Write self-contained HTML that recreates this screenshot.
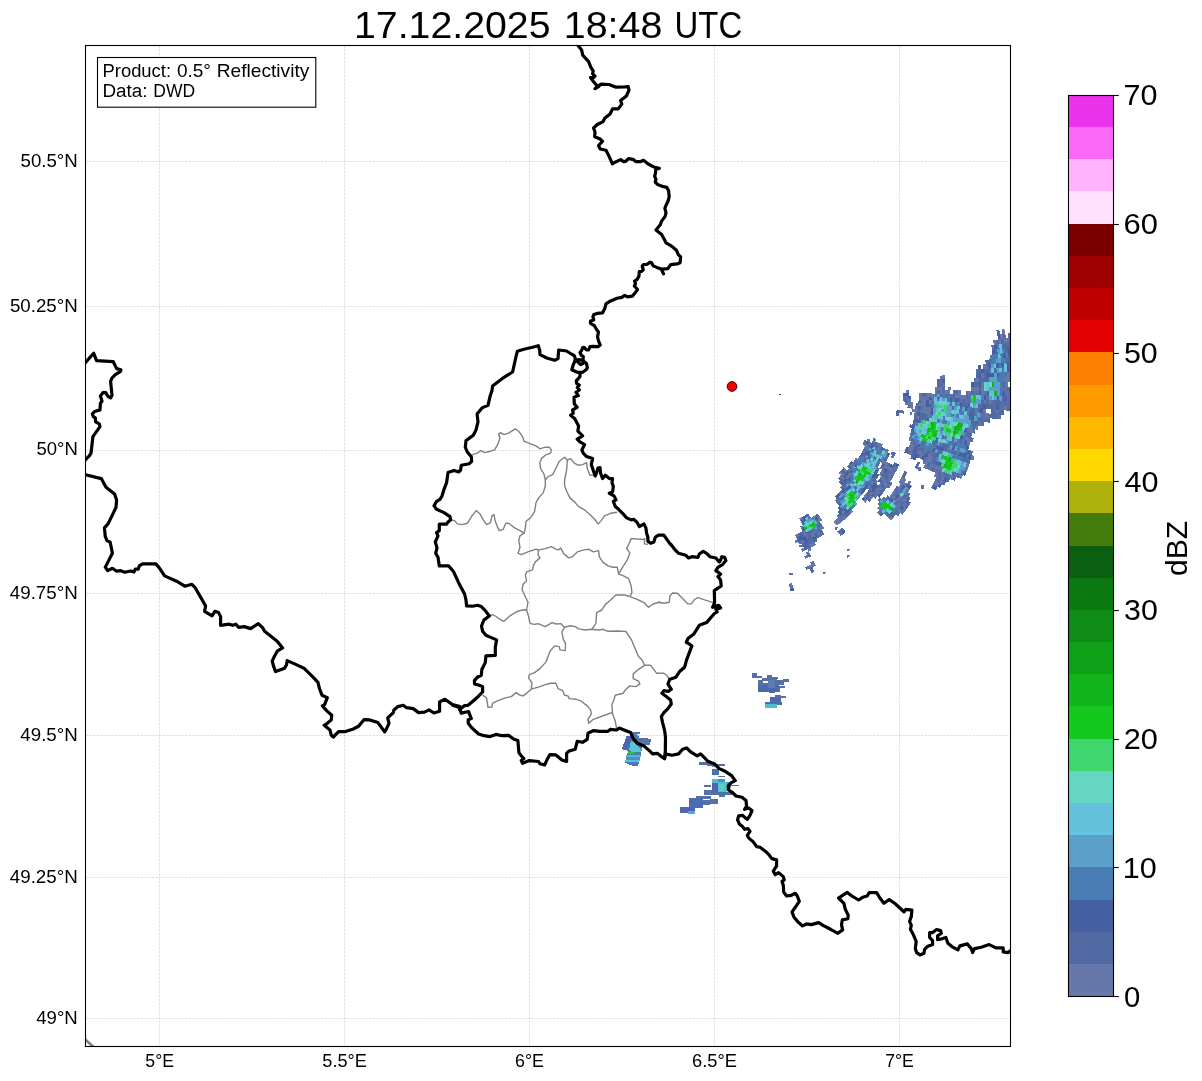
<!DOCTYPE html>
<html lang="en"><head><meta charset="utf-8"><title>17.12.2025 18:48 UTC - 0.5° Reflectivity</title>
<style>html,body{margin:0;padding:0;background:#fff}body{width:1202px;height:1081px;overflow:hidden}svg{display:block}text{font-family:"Liberation Sans",sans-serif;fill:#000;filter:grayscale(1)}</style></head><body>
<svg width="1202" height="1081" viewBox="0 0 1202 1081">
<rect width="1202" height="1081" fill="#fff"/>
<defs><clipPath id="ax"><rect x="85.5" y="45.5" width="925.0" height="1001.0"/></clipPath></defs>
<g clip-path="url(#ax)">
<g shape-rendering="crispEdges">
<rect x="909.7" y="411.7" width="2.3" height="2.9" fill="#5a70a8"/>
<rect x="918.5" y="467" width="2.9" height="4.1" fill="#5a70a8"/>
<rect x="921.4" y="485.1" width="2.3" height="3.5" fill="#5a70a8"/>
<rect x="891.4" y="452.1" width="1.7" height="2.9" fill="#5a70a8"/>
<rect x="892.6" y="456.1" width="1.7" height="2.3" fill="#5a70a8"/>
<rect x="921.1" y="485.3" width="2.3" height="3.5" fill="#5a70a8"/>
<rect x="918.2" y="466.6" width="2.9" height="4.7" fill="#5a70a8"/>
<rect x="916.5" y="462" width="2.3" height="4.1" fill="#5a70a8"/>
<rect x="834.9" y="527.2" width="2.3" height="2.9" fill="#5a70a8"/>
<rect x="799.3" y="544.9" width="3.2" height="1.8" fill="#5a70a8"/>
<rect x="789.2" y="572.8" width="3.7" height="1.8" fill="#5a70a8"/>
<polygon points="823.1,572.4 825.9,572.4 825,574.2 823.6,574.6" fill="#5a70a8"/>
<polygon points="846.5,549.5 849.7,549.3 849.2,551.3 846.9,551.5" fill="#5a70a8"/>
<polygon points="846.5,555.4 849.7,555 849.2,557.2 846.5,557.7" fill="#5a70a8"/>
<polygon points="835.5,527 837.8,527 837.3,529.3 835.2,529.3" fill="#5a70a8"/>
<rect x="751.9" y="673.1" width="5" height="4.4" fill="#5870a8"/>
<rect x="756.9" y="676" width="5" height="1.5" fill="#5870a8"/>
<rect x="767.1" y="675.2" width="4.7" height="1.7" fill="#5870a8"/>
<rect x="767.1" y="676.6" width="10.8" height="2" fill="#5870a8"/>
<rect x="762.1" y="678.4" width="15.2" height="2" fill="#5870a8"/>
<rect x="783.1" y="679.2" width="5.8" height="3.2" fill="#5870a8"/>
<rect x="758.4" y="680.1" width="25.4" height="4.4" fill="#5870a8"/>
<rect x="758.4" y="684.5" width="20.4" height="7.6" fill="#4f68ac"/>
<rect x="778.8" y="685.6" width="6.1" height="2" fill="#5870a8"/>
<rect x="778.8" y="687.7" width="1.2" height="4.1" fill="#5870a8"/>
<rect x="769.1" y="691.8" width="5.8" height="0.9" fill="#5870a8"/>
<rect x="775.3" y="695.3" width="5.5" height="2" fill="#5870a8"/>
<rect x="780.8" y="696.1" width="5" height="1.5" fill="#5870a8"/>
<rect x="770.3" y="697.3" width="10.5" height="4.7" fill="#4f68ac"/>
<rect x="765.1" y="702.3" width="16.6" height="2.6" fill="#4c6cb0"/>
<rect x="765.1" y="704.1" width="11.7" height="3.4" fill="#4cc0c8"/>
<rect x="763" y="681" width="5" height="1.7" fill="#ffffff"/>
<rect x="768" y="679.8" width="7" height="8.2" fill="#5a7eb0"/>
<polygon points="632.5,732.2 640,732.2 640,733.7 636,734 639,736.5 638.7,738 645,738.5 645.7,738 647.5,738.2 647.7,739.2 651,739.5 650.7,742 650,743 649.7,745.5 646,745.2 642,744.7 642,750 640.7,752 640.5,757 640,760 639,762 638.5,764.5 637.7,766.5 634,766 631.5,765.2 628,764 625.2,763 625.5,760.5 626.5,759 626.2,756 627.2,754 628,751.5 627,750 622.5,749.5 622.2,747.5 623.2,746 623.5,744 624.5,742 625.2,739.5 626,737 626.5,735.5 631,735.5 632,734" fill="#4f78b4"/>
<polygon points="638.7,738 645,738.5 645.7,738 647.5,738.2 647.7,739.2 651,739.5 650.7,742 650,743 649.7,745.5 646,745.2 642,744.7 640,743.5" fill="#5870a8"/>
<polygon points="626.5,735.5 631,735.5 631.5,738.5 630,742 629,746 627,749.7 622.5,749.5 622.2,747.5 623.2,746 623.5,744 624.5,742 625.2,739.5" fill="#4e66ae"/>
<polygon points="631,740.5 635,743.5 637,746 641,749 641.2,752 636,752 632,752 629,750 630,746 630.5,743" fill="#58c6d6"/>
<polygon points="626.5,754.5 640.6,754.7 640.5,757 626.2,756.7" fill="#52b8d2"/>
<polygon points="626,757 640.4,757.2 640.1,760 625.6,759.7" fill="#4a90c4"/>
<polygon points="625.5,760 640,760.2 639.2,762.2 625.3,762" fill="#58c0d4"/>
<polygon points="628,762.2 639,762.5 637.8,766.4 634,766 631.5,765.2 628,764" fill="#4a78b8"/>
<polygon points="628.5,751.5 635,751.7 635.5,753.2 631,754 628.2,753.5" fill="#22cc30"/>
<rect x="699.1" y="762.2" width="11.1" height="2.5" fill="#5870a8"/>
<rect x="706.5" y="764.3" width="18.5" height="1.5" fill="#5870a8"/>
<rect x="712.3" y="765.9" width="4.6" height="1.5" fill="#6a88b0"/>
<rect x="712.3" y="769.2" width="6.5" height="5.8" fill="#4a70b0"/>
<rect x="718.2" y="775.7" width="6.8" height="1.2" fill="#5870a8"/>
<rect x="711.7" y="778.5" width="6.2" height="4" fill="#58b8d8"/>
<rect x="717.9" y="779.1" width="7.1" height="2.8" fill="#4a90c0"/>
<rect x="711.7" y="782.5" width="6.2" height="10.5" fill="#5560b0"/>
<rect x="724.9" y="781.9" width="6.2" height="6.2" fill="#4a88b8"/>
<rect x="717.9" y="781.9" width="8.9" height="10.5" fill="#50c4cc"/>
<rect x="718.8" y="783.7" width="5.5" height="6.8" fill="#58d0c0"/>
<rect x="704" y="785.2" width="7.4" height="1.5" fill="#5870a8"/>
<rect x="704" y="789.6" width="8.6" height="5.8" fill="#5870a8"/>
<rect x="711.4" y="792.3" width="20.3" height="3.1" fill="#5070a8"/>
<rect x="718.8" y="795.4" width="6.2" height="1.2" fill="#5870a8"/>
<rect x="696.3" y="796" width="14.5" height="2.5" fill="#5870a8"/>
<rect x="689.2" y="797.6" width="13.5" height="10.2" fill="#4a6cb0"/>
<rect x="702.8" y="800" width="15.1" height="2.5" fill="#5870a8"/>
<rect x="702.8" y="803.4" width="7.4" height="1.2" fill="#5870a8"/>
<rect x="710.2" y="799.1" width="7.7" height="4.6" fill="#5870a8"/>
<rect x="680" y="807.4" width="8.6" height="5.2" fill="#5068a8"/>
<rect x="688" y="807.7" width="6.8" height="3.1" fill="#5060b8"/>
<rect x="688" y="810.5" width="6.8" height="3.4" fill="#48b0d8"/>
<rect x="731.1" y="785.4" width="7.7" height="0.5" fill="#5870a8"/>
<rect x="779" y="394.2" width="2.2" height="0.9" fill="#444444"/>
<polygon points="996.4,330.3 999.2,329.7 1000.1,334.4 997.3,334.9" fill="#526aa4"/>
<polygon points="1001.5,329.2 1004.2,328.6 1005.2,333.4 1002.4,333.9" fill="#6678aa"/>
<polygon points="997.3,334.9 1000.1,334.4 1001,339.1 998.2,339.6" fill="#4460a2"/>
<polygon points="999.9,334.4 1002.7,333.9 1003.5,338.6 1000.7,339.1" fill="#6678aa"/>
<polygon points="1002.4,333.9 1005.2,333.4 1006.1,338.2 1003.3,338.7" fill="#526aa4"/>
<polygon points="1007.5,332.9 1010.3,332.4 1011.2,337.3 1008.4,337.8" fill="#526aa4"/>
<polygon points="993.1,340.5 995.8,340 996.6,344.6 993.8,345" fill="#6678aa"/>
<polygon points="995.6,340 998.4,339.5 999.2,344.2 996.4,344.6" fill="#526aa4"/>
<polygon points="998.2,339.6 1001,339.1 1001.8,343.8 999,344.2" fill="#6678aa"/>
<polygon points="1000.7,339.1 1003.5,338.6 1004.3,343.4 1001.5,343.8" fill="#526aa4"/>
<polygon points="1003.3,338.7 1006.1,338.2 1006.9,343 1004.1,343.4" fill="#6678aa"/>
<polygon points="1005.9,338.2 1008.7,337.7 1009.5,342.6 1006.7,343" fill="#6678aa"/>
<polygon points="1008.4,337.8 1011.2,337.3 1012,342.1 1009.2,342.6" fill="#526aa4"/>
<polygon points="991.2,345.4 994.1,345 994.7,349.6 991.9,350" fill="#5a70a8"/>
<polygon points="993.8,345 996.6,344.6 997.3,349.2 994.5,349.6" fill="#4460a2"/>
<polygon points="996.4,344.6 999.2,344.2 999.9,348.9 997.1,349.2" fill="#4a7cb4"/>
<polygon points="999,344.2 1001.8,343.8 1002.5,348.5 999.6,348.9" fill="#66c2dc"/>
<polygon points="1001.5,343.8 1004.3,343.4 1005,348.1 1002.2,348.5" fill="#526aa4"/>
<polygon points="1004.1,343.4 1006.9,343 1007.6,347.8 1004.8,348.2" fill="#526aa4"/>
<polygon points="1006.7,343 1009.5,342.6 1010.2,347.4 1007.4,347.8" fill="#526aa4"/>
<polygon points="1009.2,342.6 1012,342.1 1012.8,347 1009.9,347.4" fill="#5a70a8"/>
<polygon points="991.9,350 994.7,349.6 995.3,354.2 992.5,354.5" fill="#4460a2"/>
<polygon points="994.5,349.6 997.3,349.2 997.9,353.8 995.1,354.2" fill="#526aa4"/>
<polygon points="997.1,349.2 999.9,348.9 1000.5,353.5 997.7,353.9" fill="#5aa0c8"/>
<polygon points="999.6,348.9 1002.5,348.5 1003.1,353.2 1000.3,353.6" fill="#66c2dc"/>
<polygon points="1002.2,348.5 1005,348.1 1005.7,352.9 1002.8,353.2" fill="#4a7cb4"/>
<polygon points="1004.8,348.2 1007.6,347.8 1008.2,352.6 1005.4,352.9" fill="#526aa4"/>
<polygon points="1007.4,347.8 1010.2,347.4 1010.8,352.3 1008,352.6" fill="#4460a2"/>
<polygon points="1009.9,347.4 1012.8,347 1013.4,351.9 1010.6,352.3" fill="#6678aa"/>
<polygon points="989.9,354.8 992.8,354.5 993.3,359 990.5,359.3" fill="#4a7cb4"/>
<polygon points="992.5,354.5 995.3,354.2 995.9,358.8 993,359.1" fill="#4a7cb4"/>
<polygon points="995.1,354.2 997.9,353.8 998.5,358.5 995.6,358.8" fill="#4a7cb4"/>
<polygon points="997.7,353.9 1000.5,353.5 1001,358.2 998.2,358.5" fill="#66c2dc"/>
<polygon points="1000.3,353.6 1003.1,353.2 1003.6,358 1000.8,358.2" fill="#4a7cb4"/>
<polygon points="1002.8,353.2 1005.7,352.9 1006.2,357.7 1003.4,358" fill="#4460a2"/>
<polygon points="1005.4,352.9 1008.2,352.6 1008.8,357.4 1006,357.7" fill="#6678aa"/>
<polygon points="1008,352.6 1010.8,352.3 1011.4,357.1 1008.6,357.4" fill="#4460a2"/>
<polygon points="1010.6,352.3 1013.4,351.9 1014,356.9 1011.1,357.2" fill="#526aa4"/>
<polygon points="985.3,359.9 988.1,359.6 988.5,364.1 985.7,364.3" fill="#526aa4"/>
<polygon points="987.9,359.6 990.7,359.3 991.1,363.8 988.3,364.1" fill="#526aa4"/>
<polygon points="990.5,359.3 993.3,359 993.7,363.6 990.9,363.8" fill="#4a7cb4"/>
<polygon points="993,359.1 995.9,358.8 996.3,363.4 993.5,363.6" fill="#4a7cb4"/>
<polygon points="995.6,358.8 998.5,358.5 998.9,363.1 996.1,363.4" fill="#5aa0c8"/>
<polygon points="998.2,358.5 1001,358.2 1001.5,362.9 998.7,363.2" fill="#5aa0c8"/>
<polygon points="1000.8,358.2 1003.6,358 1004.1,362.7 1001.3,362.9" fill="#4a7cb4"/>
<polygon points="1003.4,358 1006.2,357.7 1006.7,362.5 1003.8,362.7" fill="#4a7cb4"/>
<polygon points="1006,357.7 1008.8,357.4 1009.3,362.2 1006.4,362.5" fill="#526aa4"/>
<polygon points="1008.6,357.4 1011.4,357.1 1011.9,362 1009,362.3" fill="#5a70a8"/>
<polygon points="977.9,365 980.8,364.7 981.1,369.1 978.3,369.3" fill="#4460a2"/>
<polygon points="983.1,364.5 985.9,364.3 986.3,368.7 983.5,368.9" fill="#6678aa"/>
<polygon points="985.7,364.3 988.5,364.1 988.9,368.5 986.1,368.7" fill="#5a70a8"/>
<polygon points="988.3,364.1 991.1,363.8 991.5,368.4 988.7,368.6" fill="#4460a2"/>
<polygon points="990.9,363.8 993.7,363.6 994.1,368.2 991.2,368.4" fill="#5aa0c8"/>
<polygon points="993.5,363.6 996.3,363.4 996.7,368 993.8,368.2" fill="#66c2dc"/>
<polygon points="996.1,363.4 998.9,363.1 999.3,367.8 996.4,368" fill="#4460a2"/>
<polygon points="998.7,363.2 1001.5,362.9 1001.9,367.6 999,367.8" fill="#4a7cb4"/>
<polygon points="1001.3,362.9 1004.1,362.7 1004.5,367.4 1001.6,367.6" fill="#4460a2"/>
<polygon points="1003.8,362.7 1006.7,362.5 1007,367.3 1004.2,367.5" fill="#66c2dc"/>
<polygon points="1006.4,362.5 1009.3,362.2 1009.6,367.1 1006.8,367.3" fill="#4460a2"/>
<polygon points="1009,362.3 1011.9,362 1012.2,366.9 1009.4,367.1" fill="#526aa4"/>
<polygon points="975.7,369.5 978.5,369.3 978.8,373.6 975.9,373.7" fill="#5a70a8"/>
<polygon points="978.3,369.3 981.1,369.1 981.4,373.4 978.5,373.6" fill="#526aa4"/>
<polygon points="980.9,369.1 983.7,368.9 984,373.3 981.1,373.4" fill="#4460a2"/>
<polygon points="983.5,368.9 986.3,368.7 986.6,373.2 983.7,373.3" fill="#526aa4"/>
<polygon points="986.1,368.7 988.9,368.5 989.2,373 986.3,373.2" fill="#526aa4"/>
<polygon points="988.7,368.6 991.5,368.4 991.8,372.9 988.9,373" fill="#4a7cb4"/>
<polygon points="991.2,368.4 994.1,368.2 994.4,372.8 991.5,372.9" fill="#66c2dc"/>
<polygon points="993.8,368.2 996.7,368 997,372.6 994.1,372.8" fill="#526aa4"/>
<polygon points="996.4,368 999.3,367.8 999.6,372.5 996.7,372.6" fill="#5aa0c8"/>
<polygon points="999,367.8 1001.9,367.6 1002.1,372.3 999.3,372.5" fill="#66c2dc"/>
<polygon points="1001.6,367.6 1004.5,367.4 1004.7,372.2 1001.9,372.4" fill="#4a7cb4"/>
<polygon points="1004.2,367.5 1007,367.3 1007.3,372.1 1004.5,372.2" fill="#66c2dc"/>
<polygon points="1006.8,367.3 1009.6,367.1 1009.9,371.9 1007.1,372.1" fill="#4460a2"/>
<polygon points="1009.4,367.1 1012.2,366.9 1012.5,371.8 1009.7,371.9" fill="#5a70a8"/>
<polygon points="939.6,375.6 942.4,375.5 942.6,379.1 939.8,379.2" fill="#5a70a8"/>
<polygon points="942.2,375.5 945,375.3 945.2,379.1 942.4,379.2" fill="#6678aa"/>
<polygon points="975.9,373.7 978.8,373.6 979,377.9 976.1,378" fill="#526aa4"/>
<polygon points="978.5,373.6 981.4,373.4 981.6,377.8 978.7,377.9" fill="#4460a2"/>
<polygon points="981.1,373.4 984,373.3 984.2,377.7 981.3,377.8" fill="#6678aa"/>
<polygon points="983.7,373.3 986.6,373.2 986.8,377.6 983.9,377.7" fill="#526aa4"/>
<polygon points="986.3,373.2 989.2,373 989.4,377.5 986.5,377.6" fill="#4460a2"/>
<polygon points="988.9,373 991.8,372.9 992,377.4 989.1,377.5" fill="#4460a2"/>
<polygon points="991.5,372.9 994.4,372.8 994.6,377.3 991.7,377.4" fill="#4460a2"/>
<polygon points="994.1,372.8 997,372.6 997.2,377.2 994.3,377.3" fill="#5aa0c8"/>
<polygon points="996.7,372.6 999.6,372.5 999.8,377.1 996.9,377.2" fill="#4460a2"/>
<polygon points="999.3,372.5 1002.1,372.3 1002.4,377.1 999.5,377.2" fill="#4a7cb4"/>
<polygon points="1001.9,372.4 1004.7,372.2 1005,377 1002.1,377.1" fill="#4a7cb4"/>
<polygon points="1004.5,372.2 1007.3,372.1 1007.6,376.9 1004.7,377" fill="#5a70a8"/>
<polygon points="1007.1,372.1 1009.9,371.9 1010.2,376.8 1007.3,376.9" fill="#6678aa"/>
<polygon points="1009.7,371.9 1012.5,371.8 1012.7,376.7 1009.9,376.8" fill="#526aa4"/>
<polygon points="937.2,379.3 940,379.2 940.1,382.9 937.2,382.9" fill="#526aa4"/>
<polygon points="939.8,379.2 942.6,379.1 942.7,382.8 939.8,382.9" fill="#5a70a8"/>
<polygon points="942.4,379.2 945.2,379.1 945.3,382.8 942.4,382.8" fill="#4460a2"/>
<polygon points="973.5,378.1 976.4,378 976.5,382.2 973.6,382.3" fill="#5a70a8"/>
<polygon points="976.1,378 979,377.9 979.1,382.2 976.2,382.2" fill="#6678aa"/>
<polygon points="978.7,377.9 981.6,377.8 981.7,382.1 978.8,382.2" fill="#526aa4"/>
<polygon points="981.3,377.8 984.2,377.7 984.3,382.1 981.4,382.1" fill="#526aa4"/>
<polygon points="983.9,377.7 986.8,377.6 986.9,382.1 984,382.1" fill="#526aa4"/>
<polygon points="986.5,377.6 989.4,377.5 989.5,382 986.6,382.1" fill="#526aa4"/>
<polygon points="989.1,377.5 992,377.4 992.1,382 989.2,382" fill="#5aa0c8"/>
<polygon points="991.7,377.4 994.6,377.3 994.7,381.9 991.8,382" fill="#5aa0c8"/>
<polygon points="994.3,377.3 997.2,377.2 997.3,381.9 994.4,381.9" fill="#5aa0c8"/>
<polygon points="996.9,377.2 999.8,377.1 999.9,381.8 997,381.9" fill="#4a7cb4"/>
<polygon points="999.5,377.2 1002.4,377.1 1002.5,381.8 999.6,381.8" fill="#4a7cb4"/>
<polygon points="1002.1,377.1 1005,377 1005.1,381.7 1002.2,381.8" fill="#4a7cb4"/>
<polygon points="1004.7,377 1007.6,376.9 1007.7,381.7 1004.8,381.7" fill="#6678aa"/>
<polygon points="1007.3,376.9 1010.2,376.8 1010.3,381.6 1007.4,381.7" fill="#6678aa"/>
<polygon points="1009.9,376.8 1012.7,376.7 1012.9,381.6 1010,381.6" fill="#526aa4"/>
<polygon points="937.2,382.9 940.1,382.9 940.1,386.5 937.3,386.5" fill="#526aa4"/>
<polygon points="939.8,382.9 942.7,382.8 942.7,386.5 939.9,386.5" fill="#526aa4"/>
<polygon points="942.4,382.8 945.3,382.8 945.3,386.5 942.5,386.5" fill="#5a70a8"/>
<polygon points="971,382.3 973.9,382.3 973.9,386.5 971.1,386.5" fill="#4460a2"/>
<polygon points="973.6,382.3 976.5,382.2 976.5,386.5 973.7,386.5" fill="#526aa4"/>
<polygon points="976.2,382.2 979.1,382.2 979.1,386.5 976.3,386.5" fill="#526aa4"/>
<polygon points="978.8,382.2 981.7,382.1 981.7,386.5 978.9,386.5" fill="#4460a2"/>
<polygon points="981.4,382.1 984.3,382.1 984.3,386.5 981.5,386.5" fill="#6678aa"/>
<polygon points="984,382.1 986.9,382.1 986.9,386.5 984.1,386.5" fill="#64d6c2"/>
<polygon points="986.6,382.1 989.5,382 989.5,386.5 986.7,386.5" fill="#66c2dc"/>
<polygon points="989.2,382 992.1,382 992.1,386.5 989.3,386.5" fill="#64d6c2"/>
<polygon points="991.8,382 994.7,381.9 994.7,386.5 991.9,386.5" fill="#12b41c"/>
<polygon points="994.4,381.9 997.3,381.9 997.3,386.5 994.5,386.5" fill="#5aa0c8"/>
<polygon points="997,381.9 999.9,381.8 999.9,386.5 997.1,386.5" fill="#5aa0c8"/>
<polygon points="999.6,381.8 1002.5,381.8 1002.5,386.5 999.7,386.5" fill="#4a7cb4"/>
<polygon points="1002.2,381.8 1005.1,381.7 1005.1,386.5 1002.3,386.5" fill="#526aa4"/>
<polygon points="1004.8,381.7 1007.7,381.7 1007.7,386.5 1004.9,386.5" fill="#6678aa"/>
<polygon points="934.7,386.5 937.5,386.5 937.5,390.1 934.6,390" fill="#6678aa"/>
<polygon points="937.3,386.5 940.1,386.5 940.1,390.1 937.2,390.1" fill="#6678aa"/>
<polygon points="939.9,386.5 942.7,386.5 942.7,390.2 939.8,390.1" fill="#6678aa"/>
<polygon points="942.5,386.5 945.3,386.5 945.3,390.2 942.4,390.2" fill="#526aa4"/>
<polygon points="947.7,386.5 950.5,386.5 950.5,390.3 947.6,390.3" fill="#6678aa"/>
<polygon points="971.1,386.5 973.9,386.5 973.9,390.7 971,390.7" fill="#6678aa"/>
<polygon points="973.7,386.5 976.5,386.5 976.5,390.8 973.6,390.7" fill="#6678aa"/>
<polygon points="976.3,386.5 979.1,386.5 979.1,390.8 976.2,390.8" fill="#6678aa"/>
<polygon points="978.9,386.5 981.7,386.5 981.7,390.9 978.8,390.8" fill="#526aa4"/>
<polygon points="981.5,386.5 984.3,386.5 984.3,390.9 981.4,390.9" fill="#6678aa"/>
<polygon points="984.1,386.5 986.9,386.5 986.9,390.9 984,390.9" fill="#64d6c2"/>
<polygon points="986.7,386.5 989.5,386.5 989.5,391 986.6,390.9" fill="#66c2dc"/>
<polygon points="989.3,386.5 992.1,386.5 992.1,391 989.2,391" fill="#5aa0c8"/>
<polygon points="991.9,386.5 994.7,386.5 994.7,391.1 991.8,391" fill="#5aa0c8"/>
<polygon points="994.5,386.5 997.3,386.5 997.3,391.1 994.4,391.1" fill="#5aa0c8"/>
<polygon points="997.1,386.5 999.9,386.5 999.9,391.2 997,391.1" fill="#5aa0c8"/>
<polygon points="999.7,386.5 1002.5,386.5 1002.5,391.2 999.6,391.2" fill="#4a7cb4"/>
<polygon points="1002.3,386.5 1005.1,386.5 1005.1,391.3 1002.2,391.2" fill="#5a70a8"/>
<polygon points="1004.9,386.5 1007.7,386.5 1007.7,391.3 1004.8,391.3" fill="#5a70a8"/>
<polygon points="1007.5,386.5 1010.3,386.5 1010.3,391.4 1007.4,391.3" fill="#526aa4"/>
<polygon points="1010.1,386.5 1012.9,386.5 1012.9,391.4 1010,391.4" fill="#526aa4"/>
<polygon points="906.1,389.5 908.9,389.6 908.8,392.7 906,392.6" fill="#6678aa"/>
<polygon points="934.6,390 937.5,390.1 937.4,393.7 934.6,393.6" fill="#6678aa"/>
<polygon points="937.2,390.1 940.1,390.1 940,393.8 937.2,393.7" fill="#526aa4"/>
<polygon points="939.8,390.1 942.7,390.2 942.6,393.9 939.8,393.8" fill="#6678aa"/>
<polygon points="942.4,390.2 945.3,390.2 945.2,393.9 942.4,393.8" fill="#5a70a8"/>
<polygon points="945,390.2 947.9,390.3 947.8,394 945,393.9" fill="#6678aa"/>
<polygon points="947.6,390.3 950.5,390.3 950.4,394.1 947.5,394" fill="#6678aa"/>
<polygon points="952.8,390.4 955.7,390.4 955.6,394.3 952.7,394.2" fill="#5a70a8"/>
<polygon points="955.4,390.4 958.3,390.4 958.2,394.4 955.3,394.3" fill="#526aa4"/>
<polygon points="958,390.4 960.9,390.5 960.8,394.5 957.9,394.4" fill="#6678aa"/>
<polygon points="965.8,390.6 968.7,390.6 968.6,394.8 965.7,394.7" fill="#526aa4"/>
<polygon points="968.4,390.6 971.3,390.7 971.2,394.9 968.3,394.8" fill="#6678aa"/>
<polygon points="971,390.7 973.9,390.7 973.8,394.9 970.9,394.8" fill="#526aa4"/>
<polygon points="973.6,390.7 976.5,390.8 976.4,395 973.5,394.9" fill="#5a70a8"/>
<polygon points="976.2,390.8 979.1,390.8 979,395.1 976.1,395" fill="#5a70a8"/>
<polygon points="978.8,390.8 981.7,390.9 981.6,395.2 978.7,395.1" fill="#4460a2"/>
<polygon points="981.4,390.9 984.3,390.9 984.2,395.3 981.3,395.2" fill="#6678aa"/>
<polygon points="984,390.9 986.9,390.9 986.8,395.4 983.9,395.3" fill="#4a7cb4"/>
<polygon points="986.6,390.9 989.5,391 989.4,395.5 986.5,395.4" fill="#4460a2"/>
<polygon points="989.2,391 992.1,391 992,395.6 989.1,395.5" fill="#66c2dc"/>
<polygon points="991.8,391 994.7,391.1 994.6,395.7 991.7,395.6" fill="#66c2dc"/>
<polygon points="994.4,391.1 997.3,391.1 997.2,395.8 994.3,395.7" fill="#12b41c"/>
<polygon points="997,391.1 999.9,391.2 999.8,395.9 996.9,395.8" fill="#5aa0c8"/>
<polygon points="999.6,391.2 1002.5,391.2 1002.4,395.9 999.5,395.8" fill="#4a7cb4"/>
<polygon points="1002.2,391.2 1005.1,391.3 1005,396 1002.1,395.9" fill="#4460a2"/>
<polygon points="1004.8,391.3 1007.7,391.3 1007.6,396.1 1004.7,396" fill="#5a70a8"/>
<polygon points="1007.4,391.3 1010.3,391.4 1010.2,396.2 1007.3,396.1" fill="#5a70a8"/>
<polygon points="1010,391.4 1012.9,391.4 1012.7,396.3 1009.9,396.2" fill="#4460a2"/>
<polygon points="903.4,392.5 906.2,392.6 906.1,395.6 903.2,395.5" fill="#4460a2"/>
<polygon points="906,392.6 908.8,392.7 908.7,395.8 905.8,395.6" fill="#4460a2"/>
<polygon points="919,393 921.8,393.1 921.7,396.4 918.8,396.3" fill="#6678aa"/>
<polygon points="921.6,393.1 924.4,393.2 924.3,396.6 921.4,396.4" fill="#526aa4"/>
<polygon points="924.2,393.2 927,393.3 926.9,396.7 924,396.6" fill="#526aa4"/>
<polygon points="926.8,393.3 929.6,393.4 929.4,396.8 926.6,396.7" fill="#6678aa"/>
<polygon points="929.4,393.4 932.2,393.5 932,397 929.2,396.8" fill="#6678aa"/>
<polygon points="932,393.5 934.8,393.6 934.6,397.1 931.8,397" fill="#6678aa"/>
<polygon points="934.6,393.6 937.4,393.7 937.2,397.3 934.4,397.1" fill="#4a7cb4"/>
<polygon points="937.2,393.7 940,393.8 939.8,397.4 937,397.2" fill="#5aa0c8"/>
<polygon points="939.8,393.8 942.6,393.9 942.4,397.5 939.6,397.4" fill="#526aa4"/>
<polygon points="942.4,393.8 945.2,393.9 945,397.7 942.2,397.5" fill="#4a7cb4"/>
<polygon points="945,393.9 947.8,394 947.6,397.8 944.8,397.7" fill="#526aa4"/>
<polygon points="947.5,394 950.4,394.1 950.2,397.9 947.4,397.8" fill="#5a70a8"/>
<polygon points="950.1,394.1 953,394.2 952.8,398.1 950,397.9" fill="#5a70a8"/>
<polygon points="952.7,394.2 955.6,394.3 955.4,398.2 952.6,398.1" fill="#526aa4"/>
<polygon points="955.3,394.3 958.2,394.4 958,398.3 955.2,398.2" fill="#6678aa"/>
<polygon points="957.9,394.4 960.8,394.5 960.6,398.5 957.8,398.3" fill="#6678aa"/>
<polygon points="960.5,394.5 963.4,394.6 963.2,398.6 960.4,398.5" fill="#6678aa"/>
<polygon points="963.1,394.6 966,394.7 965.8,398.8 963,398.6" fill="#6678aa"/>
<polygon points="965.7,394.7 968.6,394.8 968.4,398.9 965.6,398.7" fill="#526aa4"/>
<polygon points="968.3,394.8 971.2,394.9 971,399 968.2,398.9" fill="#5a70a8"/>
<polygon points="970.9,394.8 973.8,394.9 973.6,399.2 970.8,399" fill="#40d66e"/>
<polygon points="973.5,394.9 976.4,395 976.2,399.3 973.3,399.1" fill="#14c81e"/>
<polygon points="976.1,395 979,395.1 978.8,399.4 975.9,399.3" fill="#66c2dc"/>
<polygon points="978.7,395.1 981.6,395.2 981.4,399.6 978.5,399.4" fill="#66c2dc"/>
<polygon points="981.3,395.2 984.2,395.3 984,399.7 981.1,399.6" fill="#6678aa"/>
<polygon points="983.9,395.3 986.8,395.4 986.6,399.8 983.7,399.7" fill="#4460a2"/>
<polygon points="986.5,395.4 989.4,395.5 989.2,400 986.3,399.8" fill="#5a70a8"/>
<polygon points="989.1,395.5 992,395.6 991.8,400.1 988.9,400" fill="#5aa0c8"/>
<polygon points="991.7,395.6 994.6,395.7 994.4,400.2 991.5,400.1" fill="#66c2dc"/>
<polygon points="994.3,395.7 997.2,395.8 997,400.4 994.1,400.2" fill="#5aa0c8"/>
<polygon points="996.9,395.8 999.8,395.9 999.6,400.5 996.7,400.4" fill="#4460a2"/>
<polygon points="999.5,395.8 1002.4,395.9 1002.1,400.7 999.3,400.5" fill="#5aa0c8"/>
<polygon points="1002.1,395.9 1005,396 1004.7,400.8 1001.9,400.6" fill="#526aa4"/>
<polygon points="1004.7,396 1007.6,396.1 1007.3,400.9 1004.5,400.8" fill="#4460a2"/>
<polygon points="1007.3,396.1 1010.2,396.2 1009.9,401.1 1007.1,400.9" fill="#5a70a8"/>
<polygon points="1009.9,396.2 1012.7,396.3 1012.5,401.2 1009.7,401.1" fill="#526aa4"/>
<polygon points="903.2,395.5 906.1,395.6 905.9,398.7 903.1,398.5" fill="#526aa4"/>
<polygon points="905.8,395.6 908.7,395.8 908.5,398.8 905.7,398.6" fill="#5a70a8"/>
<polygon points="908.4,395.7 911.3,395.9 911.1,399 908.2,398.8" fill="#4460a2"/>
<polygon points="918.8,396.3 921.7,396.4 921.5,399.7 918.6,399.6" fill="#6678aa"/>
<polygon points="921.4,396.4 924.3,396.6 924.1,399.9 921.2,399.7" fill="#6678aa"/>
<polygon points="924,396.6 926.9,396.7 926.6,400.1 923.8,399.9" fill="#6678aa"/>
<polygon points="926.6,396.7 929.4,396.8 929.2,400.3 926.4,400.1" fill="#5a70a8"/>
<polygon points="929.2,396.8 932,397 931.8,400.5 929,400.3" fill="#4460a2"/>
<polygon points="931.8,397 934.6,397.1 934.4,400.7 931.6,400.5" fill="#6678aa"/>
<polygon points="934.4,397.1 937.2,397.3 937,400.8 934.2,400.6" fill="#66c2dc"/>
<polygon points="937,397.2 939.8,397.4 939.6,401 936.8,400.8" fill="#526aa4"/>
<polygon points="939.6,397.4 942.4,397.5 942.2,401.2 939.4,401" fill="#66c2dc"/>
<polygon points="942.2,397.5 945,397.7 944.8,401.4 942,401.2" fill="#5aa0c8"/>
<polygon points="944.8,397.7 947.6,397.8 947.4,401.6 944.6,401.4" fill="#66c2dc"/>
<polygon points="947.4,397.8 950.2,397.9 950,401.7 947.2,401.5" fill="#4a7cb4"/>
<polygon points="950,397.9 952.8,398.1 952.6,401.9 949.7,401.7" fill="#4460a2"/>
<polygon points="952.6,398.1 955.4,398.2 955.2,402.1 952.3,401.9" fill="#5a70a8"/>
<polygon points="955.2,398.2 958,398.3 957.8,402.3 954.9,402.1" fill="#4460a2"/>
<polygon points="957.8,398.3 960.6,398.5 960.4,402.5 957.5,402.3" fill="#526aa4"/>
<polygon points="960.4,398.5 963.2,398.6 963,402.7 960.1,402.5" fill="#5a70a8"/>
<polygon points="963,398.6 965.8,398.8 965.5,402.8 962.7,402.6" fill="#526aa4"/>
<polygon points="965.6,398.7 968.4,398.9 968.1,403 965.3,402.8" fill="#5a70a8"/>
<polygon points="968.2,398.9 971,399 970.7,403.2 967.9,403" fill="#5a70a8"/>
<polygon points="970.8,399 973.6,399.2 973.3,403.4 970.5,403.2" fill="#5aa0c8"/>
<polygon points="973.3,399.1 976.2,399.3 975.9,403.6 973.1,403.4" fill="#14c81e"/>
<polygon points="975.9,399.3 978.8,399.4 978.5,403.7 975.7,403.5" fill="#5aa0c8"/>
<polygon points="978.5,399.4 981.4,399.6 981.1,403.9 978.3,403.7" fill="#5aa0c8"/>
<polygon points="981.1,399.6 984,399.7 983.7,404.1 980.9,403.9" fill="#526aa4"/>
<polygon points="983.7,399.7 986.6,399.8 986.3,404.3 983.5,404.1" fill="#6678aa"/>
<polygon points="986.3,399.8 989.2,400 988.9,404.5 986.1,404.3" fill="#526aa4"/>
<polygon points="988.9,400 991.8,400.1 991.5,404.6 988.7,404.4" fill="#6678aa"/>
<polygon points="991.5,400.1 994.4,400.2 994.1,404.8 991.2,404.6" fill="#5a70a8"/>
<polygon points="994.1,400.2 997,400.4 996.7,405 993.8,404.8" fill="#526aa4"/>
<polygon points="996.7,400.4 999.6,400.5 999.3,405.2 996.4,405" fill="#526aa4"/>
<polygon points="999.3,400.5 1002.1,400.7 1001.9,405.4 999,405.2" fill="#526aa4"/>
<polygon points="1001.9,400.6 1004.7,400.8 1004.5,405.6 1001.6,405.4" fill="#5a70a8"/>
<polygon points="1004.5,400.8 1007.3,400.9 1007,405.7 1004.2,405.5" fill="#526aa4"/>
<polygon points="1007.1,400.9 1009.9,401.1 1009.6,405.9 1006.8,405.7" fill="#5a70a8"/>
<polygon points="1009.7,401.1 1012.5,401.2 1012.2,406.1 1009.4,405.9" fill="#526aa4"/>
<polygon points="903.1,398.5 905.9,398.7 905.7,401.7 902.8,401.4" fill="#526aa4"/>
<polygon points="905.7,398.6 908.5,398.8 908.2,401.9 905.4,401.7" fill="#526aa4"/>
<polygon points="908.2,398.8 911.1,399 910.8,402.1 908,401.9" fill="#6678aa"/>
<polygon points="918.6,399.6 921.5,399.7 921.2,403.1 918.4,402.8" fill="#526aa4"/>
<polygon points="921.2,399.7 924.1,399.9 923.8,403.3 921,403" fill="#6678aa"/>
<polygon points="923.8,399.9 926.6,400.1 926.4,403.5 923.5,403.3" fill="#6678aa"/>
<polygon points="926.4,400.1 929.2,400.3 929,403.7 926.1,403.5" fill="#4460a2"/>
<polygon points="929,400.3 931.8,400.5 931.6,404 928.7,403.7" fill="#6678aa"/>
<polygon points="931.6,400.5 934.4,400.7 934.1,404.2 931.3,403.9" fill="#526aa4"/>
<polygon points="934.2,400.6 937,400.8 936.7,404.4 933.9,404.2" fill="#66c2dc"/>
<polygon points="936.8,400.8 939.6,401 939.3,404.6 936.5,404.4" fill="#66c2dc"/>
<polygon points="939.4,401 942.2,401.2 941.9,404.9 939.1,404.6" fill="#64d6c2"/>
<polygon points="942,401.2 944.8,401.4 944.5,405.1 941.7,404.8" fill="#64d6c2"/>
<polygon points="944.6,401.4 947.4,401.6 947.1,405.3 944.3,405.1" fill="#64d6c2"/>
<polygon points="947.2,401.5 950,401.7 949.7,405.5 946.9,405.3" fill="#66c2dc"/>
<polygon points="949.7,401.7 952.6,401.9 952.3,405.8 949.4,405.5" fill="#4a7cb4"/>
<polygon points="952.3,401.9 955.2,402.1 954.9,406 952,405.8" fill="#66c2dc"/>
<polygon points="954.9,402.1 957.8,402.3 957.5,406.2 954.6,406" fill="#4a7cb4"/>
<polygon points="957.5,402.3 960.4,402.5 960,406.5 957.2,406.2" fill="#6678aa"/>
<polygon points="960.1,402.5 963,402.7 962.6,406.7 959.8,406.4" fill="#4460a2"/>
<polygon points="962.7,402.6 965.5,402.8 965.2,406.9 962.4,406.7" fill="#526aa4"/>
<polygon points="965.3,402.8 968.1,403 967.8,407.1 965,406.9" fill="#526aa4"/>
<polygon points="967.9,403 970.7,403.2 970.4,407.4 967.6,407.1" fill="#4460a2"/>
<polygon points="970.5,403.2 973.3,403.4 973,407.6 970.2,407.3" fill="#64d6c2"/>
<polygon points="973.1,403.4 975.9,403.6 975.6,407.8 972.8,407.6" fill="#5aa0c8"/>
<polygon points="975.7,403.5 978.5,403.7 978.2,408 975.4,407.8" fill="#66c2dc"/>
<polygon points="978.3,403.7 981.1,403.9 980.8,408.3 977.9,408" fill="#526aa4"/>
<polygon points="980.9,403.9 983.7,404.1 983.4,408.5 980.5,408.2" fill="#526aa4"/>
<polygon points="983.5,404.1 986.3,404.3 985.9,408.7 983.1,408.5" fill="#4460a2"/>
<polygon points="986.1,404.3 988.9,404.5 988.5,408.9 985.7,408.7" fill="#526aa4"/>
<polygon points="988.7,404.4 991.5,404.6 991.1,409.2 988.3,408.9" fill="#526aa4"/>
<polygon points="991.2,404.6 994.1,404.8 993.7,409.4 990.9,409.2" fill="#526aa4"/>
<polygon points="993.8,404.8 996.7,405 996.3,409.6 993.5,409.4" fill="#5a70a8"/>
<polygon points="996.4,405 999.3,405.2 998.9,409.9 996.1,409.6" fill="#4460a2"/>
<polygon points="999,405.2 1001.9,405.4 1001.5,410.1 998.7,409.8" fill="#5a70a8"/>
<polygon points="1001.6,405.4 1004.5,405.6 1004.1,410.3 1001.3,410.1" fill="#5a70a8"/>
<polygon points="1004.2,405.5 1007,405.7 1006.7,410.5 1003.8,410.3" fill="#6678aa"/>
<polygon points="1006.8,405.7 1009.6,405.9 1009.3,410.8 1006.4,410.5" fill="#526aa4"/>
<polygon points="1009.4,405.9 1012.2,406.1 1011.9,411 1009,410.7" fill="#5a70a8"/>
<polygon points="905.4,401.7 908.2,401.9 908,405 905.1,404.7" fill="#5a70a8"/>
<polygon points="908,401.9 910.8,402.1 910.5,405.3 907.7,405" fill="#6678aa"/>
<polygon points="910.6,402.1 913.4,402.4 913.1,405.5 910.3,405.2" fill="#6678aa"/>
<polygon points="915.8,402.6 918.6,402.8 918.3,406.1 915.5,405.8" fill="#526aa4"/>
<polygon points="918.4,402.8 921.2,403.1 920.9,406.4 918.1,406.1" fill="#6678aa"/>
<polygon points="921,403 923.8,403.3 923.5,406.6 920.6,406.3" fill="#6678aa"/>
<polygon points="923.5,403.3 926.4,403.5 926.1,406.9 923.2,406.6" fill="#6678aa"/>
<polygon points="926.1,403.5 929,403.7 928.6,407.2 925.8,406.9" fill="#4460a2"/>
<polygon points="928.7,403.7 931.6,404 931.2,407.4 928.4,407.1" fill="#4460a2"/>
<polygon points="931.3,403.9 934.1,404.2 933.8,407.7 931,407.4" fill="#5a70a8"/>
<polygon points="933.9,404.2 936.7,404.4 936.4,408 933.6,407.7" fill="#5aa0c8"/>
<polygon points="936.5,404.4 939.3,404.6 939,408.3 936.2,408" fill="#40d66e"/>
<polygon points="939.1,404.6 941.9,404.9 941.6,408.5 938.7,408.2" fill="#40d66e"/>
<polygon points="941.7,404.8 944.5,405.1 944.2,408.8 941.3,408.5" fill="#66c2dc"/>
<polygon points="944.3,405.1 947.1,405.3 946.7,409.1 943.9,408.8" fill="#40d66e"/>
<polygon points="946.9,405.3 949.7,405.5 949.3,409.3 946.5,409" fill="#5aa0c8"/>
<polygon points="949.4,405.5 952.3,405.8 951.9,409.6 949.1,409.3" fill="#5aa0c8"/>
<polygon points="952,405.8 954.9,406 954.5,409.9 951.7,409.6" fill="#526aa4"/>
<polygon points="954.6,406 957.5,406.2 957.1,410.2 954.3,409.9" fill="#5aa0c8"/>
<polygon points="957.2,406.2 960,406.5 959.7,410.4 956.8,410.1" fill="#66c2dc"/>
<polygon points="959.8,406.4 962.6,406.7 962.3,410.7 959.4,410.4" fill="#526aa4"/>
<polygon points="962.4,406.7 965.2,406.9 964.8,411 962,410.7" fill="#5aa0c8"/>
<polygon points="965,406.9 967.8,407.1 967.4,411.2 964.6,410.9" fill="#4460a2"/>
<polygon points="967.6,407.1 970.4,407.4 970,411.5 967.2,411.2" fill="#4a7cb4"/>
<polygon points="970.2,407.3 973,407.6 972.6,411.8 969.8,411.5" fill="#526aa4"/>
<polygon points="972.8,407.6 975.6,407.8 975.2,412.1 972.4,411.8" fill="#526aa4"/>
<polygon points="975.4,407.8 978.2,408 977.8,412.3 974.9,412" fill="#6678aa"/>
<polygon points="977.9,408 980.8,408.3 980.4,412.6 977.5,412.3" fill="#526aa4"/>
<polygon points="980.5,408.2 983.4,408.5 982.9,412.9 980.1,412.6" fill="#4460a2"/>
<polygon points="983.1,408.5 985.9,408.7 985.5,413.1 982.7,412.8" fill="#6678aa"/>
<polygon points="990.9,409.2 993.7,409.4 993.3,414 990.5,413.7" fill="#526aa4"/>
<polygon points="993.5,409.4 996.3,409.6 995.9,414.2 993,413.9" fill="#526aa4"/>
<polygon points="996.1,409.6 998.9,409.9 998.5,414.5 995.6,414.2" fill="#6678aa"/>
<polygon points="998.7,409.8 1001.5,410.1 1001,414.8 998.2,414.5" fill="#526aa4"/>
<polygon points="1001.3,410.1 1004.1,410.3 1003.6,415 1000.8,414.8" fill="#526aa4"/>
<polygon points="907.7,405 910.5,405.3 910.2,408.4 907.4,408" fill="#526aa4"/>
<polygon points="910.3,405.2 913.1,405.5 912.8,408.7 909.9,408.3" fill="#6678aa"/>
<polygon points="915.5,405.8 918.3,406.1 917.9,409.3 915.1,409" fill="#5a70a8"/>
<polygon points="918.1,406.1 920.9,406.4 920.5,409.6 917.7,409.3" fill="#4460a2"/>
<polygon points="920.6,406.3 923.5,406.6 923.1,410 920.3,409.6" fill="#5a70a8"/>
<polygon points="923.2,406.6 926.1,406.9 925.7,410.3 922.8,409.9" fill="#6678aa"/>
<polygon points="925.8,406.9 928.6,407.2 928.2,410.6 925.4,410.2" fill="#6678aa"/>
<polygon points="928.4,407.1 931.2,407.4 930.8,410.9 928,410.6" fill="#6678aa"/>
<polygon points="931,407.4 933.8,407.7 933.4,411.2 930.6,410.9" fill="#4460a2"/>
<polygon points="933.6,407.7 936.4,408 936,411.5 933.2,411.2" fill="#5aa0c8"/>
<polygon points="936.2,408 939,408.3 938.6,411.9 935.7,411.5" fill="#66c2dc"/>
<polygon points="938.7,408.2 941.6,408.5 941.1,412.2 938.3,411.8" fill="#64d6c2"/>
<polygon points="941.3,408.5 944.2,408.8 943.7,412.5 940.9,412.2" fill="#5aa0c8"/>
<polygon points="943.9,408.8 946.7,409.1 946.3,412.8 943.5,412.5" fill="#40d66e"/>
<polygon points="946.5,409 949.3,409.3 948.9,413.1 946.1,412.8" fill="#5aa0c8"/>
<polygon points="949.1,409.3 951.9,409.6 951.5,413.4 948.7,413.1" fill="#5aa0c8"/>
<polygon points="951.7,409.6 954.5,409.9 954.1,413.8 951.2,413.4" fill="#64d6c2"/>
<polygon points="954.3,409.9 957.1,410.2 956.6,414.1 953.8,413.7" fill="#66c2dc"/>
<polygon points="956.8,410.1 959.7,410.4 959.2,414.4 956.4,414.1" fill="#66c2dc"/>
<polygon points="959.4,410.4 962.3,410.7 961.8,414.7 959,414.4" fill="#4a7cb4"/>
<polygon points="962,410.7 964.8,411 964.4,415 961.6,414.7" fill="#4a7cb4"/>
<polygon points="964.6,410.9 967.4,411.2 967,415.3 964.1,415" fill="#66c2dc"/>
<polygon points="967.2,411.2 970,411.5 969.5,415.7 966.7,415.3" fill="#4a7cb4"/>
<polygon points="969.8,411.5 972.6,411.8 972.1,416 969.3,415.6" fill="#4460a2"/>
<polygon points="972.4,411.8 975.2,412.1 974.7,416.3 971.9,416" fill="#526aa4"/>
<polygon points="974.9,412 977.8,412.3 977.3,416.6 974.5,416.3" fill="#4a7cb4"/>
<polygon points="977.5,412.3 980.4,412.6 979.9,416.9 977,416.6" fill="#5aa0c8"/>
<polygon points="980.1,412.6 982.9,412.9 982.4,417.3 979.6,416.9" fill="#6678aa"/>
<polygon points="982.7,412.8 985.5,413.1 985,417.6 982.2,417.2" fill="#5a70a8"/>
<polygon points="985.3,413.1 988.1,413.4 987.6,417.9 984.8,417.5" fill="#6678aa"/>
<polygon points="987.9,413.4 990.7,413.7 990.2,418.2 987.4,417.9" fill="#5a70a8"/>
<polygon points="990.5,413.7 993.3,414 992.8,418.5 989.9,418.2" fill="#526aa4"/>
<polygon points="993,413.9 995.9,414.2 995.3,418.8 992.5,418.5" fill="#526aa4"/>
<polygon points="995.6,414.2 998.5,414.5 997.9,419.2 995.1,418.8" fill="#526aa4"/>
<polygon points="998.2,414.5 1001,414.8 1000.5,419.5 997.7,419.1" fill="#5a70a8"/>
<polygon points="912.5,408.7 915.3,409 914.9,412.2 912.1,411.8" fill="#6678aa"/>
<polygon points="915.1,409 917.9,409.3 917.5,412.6 914.7,412.2" fill="#6678aa"/>
<polygon points="917.7,409.3 920.5,409.6 920.1,412.9 917.3,412.5" fill="#526aa4"/>
<polygon points="920.3,409.6 923.1,410 922.6,413.3 919.8,412.9" fill="#6678aa"/>
<polygon points="922.8,409.9 925.7,410.3 925.2,413.7 922.4,413.3" fill="#6678aa"/>
<polygon points="925.4,410.2 928.2,410.6 927.8,414 925,413.6" fill="#6678aa"/>
<polygon points="928,410.6 930.8,410.9 930.4,414.4 927.6,414" fill="#6678aa"/>
<polygon points="930.6,410.9 933.4,411.2 932.9,414.7 930.1,414.3" fill="#4460a2"/>
<polygon points="933.2,411.2 936,411.5 935.5,415.1 932.7,414.7" fill="#5aa0c8"/>
<polygon points="935.7,411.5 938.6,411.9 938.1,415.5 935.3,415.1" fill="#64d6c2"/>
<polygon points="938.3,411.8 941.1,412.2 940.7,415.8 937.9,415.4" fill="#40d66e"/>
<polygon points="940.9,412.2 943.7,412.5 943.2,416.2 940.4,415.8" fill="#64d6c2"/>
<polygon points="943.5,412.5 946.3,412.8 945.8,416.6 943,416.2" fill="#66c2dc"/>
<polygon points="946.1,412.8 948.9,413.1 948.4,416.9 945.6,416.5" fill="#5aa0c8"/>
<polygon points="948.7,413.1 951.5,413.4 951,417.3 948.2,416.9" fill="#5aa0c8"/>
<polygon points="951.2,413.4 954.1,413.8 953.5,417.6 950.7,417.2" fill="#4a7cb4"/>
<polygon points="953.8,413.7 956.6,414.1 956.1,418 953.3,417.6" fill="#5aa0c8"/>
<polygon points="956.4,414.1 959.2,414.4 958.7,418.4 955.9,418" fill="#4a7cb4"/>
<polygon points="959,414.4 961.8,414.7 961.3,418.7 958.5,418.3" fill="#66c2dc"/>
<polygon points="961.6,414.7 964.4,415 963.8,419.1 961,418.7" fill="#66c2dc"/>
<polygon points="964.1,415 967,415.3 966.4,419.4 963.6,419" fill="#5aa0c8"/>
<polygon points="966.7,415.3 969.5,415.7 969,419.8 966.2,419.4" fill="#5aa0c8"/>
<polygon points="969.3,415.6 972.1,416 971.6,420.2 968.8,419.8" fill="#526aa4"/>
<polygon points="971.9,416 974.7,416.3 974.1,420.5 971.3,420.1" fill="#4460a2"/>
<polygon points="974.5,416.3 977.3,416.6 976.7,420.9 973.9,420.5" fill="#5aa0c8"/>
<polygon points="977,416.6 979.9,416.9 979.3,421.3 976.5,420.9" fill="#4a7cb4"/>
<polygon points="979.6,416.9 982.4,417.3 981.9,421.6 979.1,421.2" fill="#526aa4"/>
<polygon points="982.2,417.2 985,417.6 984.4,422 981.6,421.6" fill="#5a70a8"/>
<polygon points="984.8,417.5 987.6,417.9 987,422.3 984.2,421.9" fill="#526aa4"/>
<polygon points="987.4,417.9 990.2,418.2 989.6,422.7 986.8,422.3" fill="#526aa4"/>
<polygon points="896.7,409.6 899.5,410 899,413 896.2,412.5" fill="#4460a2"/>
<polygon points="899.2,410 902,410.4 901.6,413.4 898.8,412.9" fill="#5a70a8"/>
<polygon points="901.8,410.4 904.6,410.8 904.2,413.8 901.4,413.3" fill="#526aa4"/>
<polygon points="914.7,412.2 917.5,412.6 917,415.8 914.2,415.4" fill="#5a70a8"/>
<polygon points="917.3,412.5 920.1,412.9 919.6,416.2 916.8,415.8" fill="#4460a2"/>
<polygon points="919.8,412.9 922.6,413.3 922.1,416.6 919.3,416.2" fill="#526aa4"/>
<polygon points="922.4,413.3 925.2,413.7 924.7,417 921.9,416.6" fill="#526aa4"/>
<polygon points="925,413.6 927.8,414 927.3,417.4 924.5,417" fill="#526aa4"/>
<polygon points="927.6,414 930.4,414.4 929.9,417.8 927,417.4" fill="#6678aa"/>
<polygon points="930.1,414.3 932.9,414.7 932.4,418.2 929.6,417.8" fill="#4a7cb4"/>
<polygon points="932.7,414.7 935.5,415.1 935,418.7 932.2,418.2" fill="#66c2dc"/>
<polygon points="935.3,415.1 938.1,415.5 937.6,419.1 934.8,418.6" fill="#40d66e"/>
<polygon points="937.9,415.4 940.7,415.8 940.1,419.5 937.3,419" fill="#66c2dc"/>
<polygon points="940.4,415.8 943.2,416.2 942.7,419.9 939.9,419.4" fill="#66c2dc"/>
<polygon points="943,416.2 945.8,416.6 945.3,420.3 942.5,419.8" fill="#4a7cb4"/>
<polygon points="945.6,416.5 948.4,416.9 947.8,420.7 945,420.2" fill="#64d6c2"/>
<polygon points="948.2,416.9 951,417.3 950.4,421.1 947.6,420.6" fill="#64d6c2"/>
<polygon points="950.7,417.2 953.5,417.6 953,421.5 950.2,421.1" fill="#66c2dc"/>
<polygon points="953.3,417.6 956.1,418 955.5,421.9 952.7,421.5" fill="#5aa0c8"/>
<polygon points="955.9,418 958.7,418.4 958.1,422.3 955.3,421.9" fill="#5aa0c8"/>
<polygon points="958.5,418.3 961.3,418.7 960.7,422.7 957.9,422.3" fill="#5aa0c8"/>
<polygon points="961,418.7 963.8,419.1 963.2,423.1 960.4,422.7" fill="#5aa0c8"/>
<polygon points="963.6,419 966.4,419.4 965.8,423.5 963,423.1" fill="#5aa0c8"/>
<polygon points="966.2,419.4 969,419.8 968.4,423.9 965.6,423.5" fill="#5aa0c8"/>
<polygon points="968.8,419.8 971.6,420.2 970.9,424.3 968.1,423.9" fill="#5aa0c8"/>
<polygon points="971.3,420.1 974.1,420.5 973.5,424.8 970.7,424.3" fill="#526aa4"/>
<polygon points="973.9,420.5 976.7,420.9 976.1,425.2 973.3,424.7" fill="#526aa4"/>
<polygon points="976.5,420.9 979.3,421.3 978.6,425.6 975.8,425.1" fill="#526aa4"/>
<polygon points="979.1,421.2 981.9,421.6 981.2,426 978.4,425.5" fill="#6678aa"/>
<polygon points="981.6,421.6 984.4,422 983.8,426.4 981,425.9" fill="#5a70a8"/>
<polygon points="896.2,412.5 899,413 898.6,415.9 895.8,415.4" fill="#526aa4"/>
<polygon points="914.2,415.4 917,415.8 916.5,419 913.7,418.5" fill="#526aa4"/>
<polygon points="916.8,415.8 919.6,416.2 919,419.5 916.2,419" fill="#6678aa"/>
<polygon points="919.3,416.2 922.1,416.6 921.6,419.9 918.8,419.4" fill="#526aa4"/>
<polygon points="921.9,416.6 924.7,417 924.2,420.4 921.4,419.9" fill="#526aa4"/>
<polygon points="924.5,417 927.3,417.4 926.7,420.8 923.9,420.3" fill="#526aa4"/>
<polygon points="927,417.4 929.9,417.8 929.3,421.3 926.5,420.8" fill="#4460a2"/>
<polygon points="929.6,417.8 932.4,418.2 931.8,421.7 929,421.2" fill="#64d6c2"/>
<polygon points="932.2,418.2 935,418.7 934.4,422.2 931.6,421.7" fill="#66c2dc"/>
<polygon points="934.8,418.6 937.6,419.1 937,422.6 934.2,422.1" fill="#66c2dc"/>
<polygon points="937.3,419 940.1,419.5 939.5,423.1 936.7,422.6" fill="#4a7cb4"/>
<polygon points="939.9,419.4 942.7,419.9 942.1,423.5 939.3,423" fill="#5aa0c8"/>
<polygon points="942.5,419.8 945.3,420.3 944.6,424 941.8,423.5" fill="#4a7cb4"/>
<polygon points="945,420.2 947.8,420.7 947.2,424.4 944.4,424" fill="#4a7cb4"/>
<polygon points="947.6,420.6 950.4,421.1 949.8,424.9 947,424.4" fill="#5aa0c8"/>
<polygon points="950.2,421.1 953,421.5 952.3,425.3 949.5,424.9" fill="#66c2dc"/>
<polygon points="952.7,421.5 955.5,421.9 954.9,425.8 952.1,425.3" fill="#64d6c2"/>
<polygon points="955.3,421.9 958.1,422.3 957.4,426.3 954.6,425.8" fill="#64d6c2"/>
<polygon points="957.9,422.3 960.7,422.7 960,426.7 957.2,426.2" fill="#12b41c"/>
<polygon points="960.4,422.7 963.2,423.1 962.6,427.2 959.8,426.7" fill="#12b41c"/>
<polygon points="963,423.1 965.8,423.5 965.1,427.6 962.3,427.1" fill="#66c2dc"/>
<polygon points="965.6,423.5 968.4,423.9 967.7,428.1 964.9,427.6" fill="#64d6c2"/>
<polygon points="968.1,423.9 970.9,424.3 970.2,428.5 967.4,428" fill="#5aa0c8"/>
<polygon points="970.7,424.3 973.5,424.8 972.8,429 970,428.5" fill="#4a7cb4"/>
<polygon points="973.3,424.7 976.1,425.2 975.4,429.4 972.6,428.9" fill="#526aa4"/>
<polygon points="975.8,425.1 978.6,425.6 977.9,429.9 975.1,429.4" fill="#6678aa"/>
<polygon points="913.7,418.5 916.5,419 915.9,422.2 913.1,421.7" fill="#4460a2"/>
<polygon points="916.2,419 919,419.5 918.4,422.7 915.6,422.2" fill="#4460a2"/>
<polygon points="918.8,419.4 921.6,419.9 921,423.2 918.2,422.7" fill="#4460a2"/>
<polygon points="921.4,419.9 924.2,420.4 923.5,423.7 920.7,423.2" fill="#5aa0c8"/>
<polygon points="923.9,420.3 926.7,420.8 926.1,424.2 923.3,423.7" fill="#40d66e"/>
<polygon points="926.5,420.8 929.3,421.3 928.6,424.7 925.9,424.2" fill="#64d6c2"/>
<polygon points="929,421.2 931.8,421.7 931.2,425.2 928.4,424.7" fill="#40d66e"/>
<polygon points="931.6,421.7 934.4,422.2 933.7,425.7 931,425.2" fill="#12b41c"/>
<polygon points="934.2,422.1 937,422.6 936.3,426.2 933.5,425.7" fill="#14c81e"/>
<polygon points="936.7,422.6 939.5,423.1 938.8,426.7 936.1,426.2" fill="#64d6c2"/>
<polygon points="939.3,423 942.1,423.5 941.4,427.2 938.6,426.7" fill="#66c2dc"/>
<polygon points="941.8,423.5 944.6,424 944,427.7 941.2,427.2" fill="#66c2dc"/>
<polygon points="944.4,424 947.2,424.4 946.5,428.2 943.7,427.7" fill="#40d66e"/>
<polygon points="947,424.4 949.8,424.9 949.1,428.7 946.3,428.1" fill="#40d66e"/>
<polygon points="949.5,424.9 952.3,425.3 951.6,429.2 948.8,428.6" fill="#64d6c2"/>
<polygon points="952.1,425.3 954.9,425.8 954.2,429.7 951.4,429.1" fill="#40d66e"/>
<polygon points="954.6,425.8 957.4,426.3 956.7,430.2 953.9,429.6" fill="#12b41c"/>
<polygon points="957.2,426.2 960,426.7 959.3,430.7 956.5,430.1" fill="#12b41c"/>
<polygon points="959.8,426.7 962.6,427.2 961.8,431.2 959,430.6" fill="#14c81e"/>
<polygon points="962.3,427.1 965.1,427.6 964.4,431.7 961.6,431.1" fill="#66c2dc"/>
<polygon points="964.9,427.6 967.7,428.1 966.9,432.2 964.1,431.6" fill="#4460a2"/>
<polygon points="967.4,428 970.2,428.5 969.5,432.7 966.7,432.1" fill="#4a7cb4"/>
<polygon points="970,428.5 972.8,429 972,433.2 969.2,432.6" fill="#6678aa"/>
<polygon points="972.6,428.9 975.4,429.4 974.6,433.7 971.8,433.1" fill="#5a70a8"/>
<polygon points="913.1,421.7 915.9,422.2 915.2,425.4 912.4,424.9" fill="#526aa4"/>
<polygon points="915.6,422.2 918.4,422.7 917.8,426 915,425.4" fill="#4a7cb4"/>
<polygon points="918.2,422.7 921,423.2 920.3,426.5 917.5,425.9" fill="#66c2dc"/>
<polygon points="920.7,423.2 923.5,423.7 922.9,427.1 920.1,426.5" fill="#40d66e"/>
<polygon points="923.3,423.7 926.1,424.2 925.4,427.6 922.6,427" fill="#64d6c2"/>
<polygon points="925.9,424.2 928.6,424.7 927.9,428.1 925.2,427.6" fill="#66c2dc"/>
<polygon points="928.4,424.7 931.2,425.2 930.5,428.7 927.7,428.1" fill="#40d66e"/>
<polygon points="931,425.2 933.7,425.7 933,429.2 930.3,428.6" fill="#12b41c"/>
<polygon points="933.5,425.7 936.3,426.2 935.6,429.8 932.8,429.2" fill="#14c81e"/>
<polygon points="936.1,426.2 938.8,426.7 938.1,430.3 935.3,429.7" fill="#64d6c2"/>
<polygon points="938.6,426.7 941.4,427.2 940.7,430.9 937.9,430.3" fill="#40d66e"/>
<polygon points="941.2,427.2 944,427.7 943.2,431.4 940.4,430.8" fill="#4a7cb4"/>
<polygon points="943.7,427.7 946.5,428.2 945.7,431.9 943,431.3" fill="#40d66e"/>
<polygon points="946.3,428.1 949.1,428.7 948.3,432.5 945.5,431.9" fill="#14c81e"/>
<polygon points="948.8,428.6 951.6,429.2 950.8,433 948.1,432.4" fill="#14c81e"/>
<polygon points="951.4,429.1 954.2,429.7 953.4,433.6 950.6,433" fill="#66c2dc"/>
<polygon points="953.9,429.6 956.7,430.2 955.9,434.1 953.1,433.5" fill="#12b41c"/>
<polygon points="956.5,430.1 959.3,430.7 958.5,434.6 955.7,434" fill="#14c81e"/>
<polygon points="959,430.6 961.8,431.2 961,435.2 958.2,434.6" fill="#40d66e"/>
<polygon points="961.6,431.1 964.4,431.7 963.5,435.7 960.8,435.1" fill="#5aa0c8"/>
<polygon points="964.1,431.6 966.9,432.2 966.1,436.3 963.3,435.7" fill="#4a7cb4"/>
<polygon points="966.7,432.1 969.5,432.7 968.6,436.8 965.9,436.2" fill="#526aa4"/>
<polygon points="969.2,432.6 972,433.2 971.2,437.3 968.4,436.7" fill="#526aa4"/>
<polygon points="909.9,424.3 912.7,424.9 912,428.1 909.2,427.4" fill="#4460a2"/>
<polygon points="912.4,424.9 915.2,425.4 914.5,428.6 911.8,428" fill="#4460a2"/>
<polygon points="915,425.4 917.8,426 917.1,429.2 914.3,428.6" fill="#66c2dc"/>
<polygon points="917.5,425.9 920.3,426.5 919.6,429.8 916.8,429.2" fill="#66c2dc"/>
<polygon points="920.1,426.5 922.9,427.1 922.1,430.4 919.4,429.8" fill="#66c2dc"/>
<polygon points="922.6,427 925.4,427.6 924.7,431 921.9,430.3" fill="#66c2dc"/>
<polygon points="925.2,427.6 927.9,428.1 927.2,431.6 924.4,430.9" fill="#66c2dc"/>
<polygon points="927.7,428.1 930.5,428.7 929.7,432.1 927,431.5" fill="#12b41c"/>
<polygon points="930.3,428.6 933,429.2 932.3,432.7 929.5,432.1" fill="#14c81e"/>
<polygon points="932.8,429.2 935.6,429.8 934.8,433.3 932,432.7" fill="#14c81e"/>
<polygon points="935.3,429.7 938.1,430.3 937.3,433.9 934.6,433.3" fill="#14c81e"/>
<polygon points="937.9,430.3 940.7,430.9 939.9,434.5 937.1,433.8" fill="#66c2dc"/>
<polygon points="940.4,430.8 943.2,431.4 942.4,435.1 939.6,434.4" fill="#5aa0c8"/>
<polygon points="943,431.3 945.7,431.9 944.9,435.7 942.2,435" fill="#66c2dc"/>
<polygon points="945.5,431.9 948.3,432.5 947.5,436.2 944.7,435.6" fill="#40d66e"/>
<polygon points="948.1,432.4 950.8,433 950,436.8 947.2,436.2" fill="#40d66e"/>
<polygon points="950.6,433 953.4,433.6 952.5,437.4 949.8,436.8" fill="#64d6c2"/>
<polygon points="953.1,433.5 955.9,434.1 955.1,438 952.3,437.4" fill="#14c81e"/>
<polygon points="955.7,434 958.5,434.6 957.6,438.6 954.8,437.9" fill="#64d6c2"/>
<polygon points="958.2,434.6 961,435.2 960.1,439.2 957.4,438.5" fill="#64d6c2"/>
<polygon points="960.8,435.1 963.5,435.7 962.7,439.8 959.9,439.1" fill="#4460a2"/>
<polygon points="963.3,435.7 966.1,436.3 965.2,440.3 962.4,439.7" fill="#5a70a8"/>
<polygon points="965.9,436.2 968.6,436.8 967.7,440.9 965,440.3" fill="#6678aa"/>
<polygon points="968.4,436.7 971.2,437.3 970.3,441.5 967.5,440.9" fill="#5a70a8"/>
<polygon points="970.9,437.3 973.7,437.9 972.8,442.1 970,441.5" fill="#5a70a8"/>
<polygon points="911.8,428 914.5,428.6 913.8,431.8 911,431.1" fill="#4460a2"/>
<polygon points="914.3,428.6 917.1,429.2 916.3,432.4 913.5,431.8" fill="#5aa0c8"/>
<polygon points="916.8,429.2 919.6,429.8 918.8,433.1 916,432.4" fill="#66c2dc"/>
<polygon points="919.4,429.8 922.1,430.4 921.3,433.7 918.6,433" fill="#5aa0c8"/>
<polygon points="921.9,430.3 924.7,431 923.8,434.3 921.1,433.6" fill="#64d6c2"/>
<polygon points="924.4,430.9 927.2,431.6 926.4,435 923.6,434.3" fill="#66c2dc"/>
<polygon points="927,431.5 929.7,432.1 928.9,435.6 926.1,434.9" fill="#14c81e"/>
<polygon points="929.5,432.1 932.3,432.7 931.4,436.2 928.7,435.5" fill="#40d66e"/>
<polygon points="932,432.7 934.8,433.3 933.9,436.8 931.2,436.2" fill="#14c81e"/>
<polygon points="934.6,433.3 937.3,433.9 936.5,437.5 933.7,436.8" fill="#12b41c"/>
<polygon points="937.1,433.8 939.9,434.5 939,438.1 936.2,437.4" fill="#66c2dc"/>
<polygon points="939.6,434.4 942.4,435.1 941.5,438.7 938.8,438" fill="#66c2dc"/>
<polygon points="942.2,435 944.9,435.7 944,439.4 941.3,438.7" fill="#526aa4"/>
<polygon points="944.7,435.6 947.5,436.2 946.6,440 943.8,439.3" fill="#4a7cb4"/>
<polygon points="947.2,436.2 950,436.8 949.1,440.6 946.3,439.9" fill="#66c2dc"/>
<polygon points="949.8,436.8 952.5,437.4 951.6,441.3 948.8,440.6" fill="#66c2dc"/>
<polygon points="952.3,437.4 955.1,438 954.1,441.9 951.4,441.2" fill="#526aa4"/>
<polygon points="954.8,437.9 957.6,438.6 956.6,442.5 953.9,441.8" fill="#5aa0c8"/>
<polygon points="957.4,438.5 960.1,439.2 959.2,443.1 956.4,442.5" fill="#4a7cb4"/>
<polygon points="959.9,439.1 962.7,439.8 961.7,443.8 958.9,443.1" fill="#526aa4"/>
<polygon points="962.4,439.7 965.2,440.3 964.2,444.4 961.5,443.7" fill="#4a7cb4"/>
<polygon points="965,440.3 967.7,440.9 966.7,445 964,444.3" fill="#4460a2"/>
<polygon points="967.5,440.9 970.3,441.5 969.3,445.7 966.5,445" fill="#6678aa"/>
<polygon points="911,431.1 913.8,431.8 912.9,435 910.2,434.2" fill="#526aa4"/>
<polygon points="913.5,431.8 916.3,432.4 915.4,435.7 912.7,434.9" fill="#4a7cb4"/>
<polygon points="916,432.4 918.8,433.1 918,436.3 915.2,435.6" fill="#5aa0c8"/>
<polygon points="918.6,433 921.3,433.7 920.5,437 917.7,436.3" fill="#66c2dc"/>
<polygon points="921.1,433.6 923.8,434.3 923,437.7 920.2,436.9" fill="#14c81e"/>
<polygon points="923.6,434.3 926.4,435 925.5,438.3 922.8,437.6" fill="#14c81e"/>
<polygon points="926.1,434.9 928.9,435.6 928,439 925.3,438.3" fill="#40d66e"/>
<polygon points="928.7,435.5 931.4,436.2 930.5,439.7 927.8,439" fill="#14c81e"/>
<polygon points="931.2,436.2 933.9,436.8 933,440.4 930.3,439.6" fill="#40d66e"/>
<polygon points="933.7,436.8 936.5,437.5 935.5,441 932.8,440.3" fill="#40d66e"/>
<polygon points="936.2,437.4 939,438.1 938.1,441.7 935.3,441" fill="#4460a2"/>
<polygon points="938.8,438 941.5,438.7 940.6,442.4 937.8,441.6" fill="#64d6c2"/>
<polygon points="941.3,438.7 944,439.4 943.1,443.1 940.3,442.3" fill="#66c2dc"/>
<polygon points="943.8,439.3 946.6,440 945.6,443.7 942.8,443" fill="#64d6c2"/>
<polygon points="946.3,439.9 949.1,440.6 948.1,444.4 945.4,443.7" fill="#5aa0c8"/>
<polygon points="948.8,440.6 951.6,441.3 950.6,445.1 947.9,444.3" fill="#4a7cb4"/>
<polygon points="951.4,441.2 954.1,441.9 953.1,445.7 950.4,445" fill="#4a7cb4"/>
<polygon points="953.9,441.8 956.6,442.5 955.6,446.4 952.9,445.7" fill="#526aa4"/>
<polygon points="956.4,442.5 959.2,443.1 958.1,447.1 955.4,446.4" fill="#4a7cb4"/>
<polygon points="958.9,443.1 961.7,443.8 960.7,447.8 957.9,447" fill="#4a7cb4"/>
<polygon points="961.5,443.7 964.2,444.4 963.2,448.4 960.4,447.7" fill="#4a7cb4"/>
<polygon points="964,444.3 966.7,445 965.7,449.1 962.9,448.4" fill="#4a7cb4"/>
<polygon points="966.5,445 969.3,445.7 968.2,449.8 965.4,449.1" fill="#4460a2"/>
<polygon points="910.2,434.2 912.9,435 912.1,438.1 909.3,437.3" fill="#6678aa"/>
<polygon points="912.7,434.9 915.4,435.7 914.6,438.8 911.8,438.1" fill="#5aa0c8"/>
<polygon points="915.2,435.6 918,436.3 917.1,439.6 914.3,438.8" fill="#4a7cb4"/>
<polygon points="917.7,436.3 920.5,437 919.6,440.3 916.8,439.5" fill="#5aa0c8"/>
<polygon points="920.2,436.9 923,437.7 922.1,441 919.3,440.2" fill="#66c2dc"/>
<polygon points="922.8,437.6 925.5,438.3 924.6,441.7 921.8,440.9" fill="#14c81e"/>
<polygon points="925.3,438.3 928,439 927.1,442.4 924.3,441.6" fill="#14c81e"/>
<polygon points="927.8,439 930.5,439.7 929.6,443.1 926.8,442.4" fill="#66c2dc"/>
<polygon points="930.3,439.6 933,440.4 932.1,443.9 929.3,443.1" fill="#64d6c2"/>
<polygon points="932.8,440.3 935.5,441 934.6,444.6 931.8,443.8" fill="#526aa4"/>
<polygon points="935.3,441 938.1,441.7 937.1,445.3 934.3,444.5" fill="#526aa4"/>
<polygon points="937.8,441.6 940.6,442.4 939.6,446 936.8,445.2" fill="#5aa0c8"/>
<polygon points="940.3,442.3 943.1,443.1 942.1,446.7 939.3,445.9" fill="#4a7cb4"/>
<polygon points="942.8,443 945.6,443.7 944.6,447.4 941.8,446.7" fill="#526aa4"/>
<polygon points="945.4,443.7 948.1,444.4 947.1,448.2 944.3,447.4" fill="#526aa4"/>
<polygon points="947.9,444.3 950.6,445.1 949.6,448.9 946.8,448.1" fill="#4a7cb4"/>
<polygon points="950.4,445 953.1,445.7 952.1,449.6 949.3,448.8" fill="#5aa0c8"/>
<polygon points="952.9,445.7 955.6,446.4 954.6,450.3 951.8,449.5" fill="#4460a2"/>
<polygon points="955.4,446.4 958.1,447.1 957.1,451 954.3,450.2" fill="#5aa0c8"/>
<polygon points="957.9,447 960.7,447.8 959.5,451.7 956.8,451" fill="#4a7cb4"/>
<polygon points="960.4,447.7 963.2,448.4 962,452.5 959.3,451.7" fill="#5aa0c8"/>
<polygon points="962.9,448.4 965.7,449.1 964.5,453.2 961.8,452.4" fill="#5aa0c8"/>
<polygon points="965.4,449.1 968.2,449.8 967,453.9 964.3,453.1" fill="#4a7cb4"/>
<polygon points="968,449.7 970.7,450.5 969.5,454.6 966.8,453.8" fill="#4460a2"/>
<polygon points="970.5,450.4 973.2,451.1 972,455.3 969.3,454.5" fill="#5a70a8"/>
<polygon points="909.3,437.3 912.1,438.1 911.1,441.3 908.4,440.4" fill="#6678aa"/>
<polygon points="911.8,438.1 914.6,438.8 913.6,442 910.9,441.2" fill="#526aa4"/>
<polygon points="914.3,438.8 917.1,439.6 916.1,442.8 913.4,442" fill="#4a7cb4"/>
<polygon points="916.8,439.5 919.6,440.3 918.6,443.5 915.9,442.7" fill="#4a7cb4"/>
<polygon points="919.3,440.2 922.1,441 921.1,444.3 918.4,443.5" fill="#5aa0c8"/>
<polygon points="921.8,440.9 924.6,441.7 923.6,445.1 920.9,444.2" fill="#526aa4"/>
<polygon points="924.3,441.6 927.1,442.4 926.1,445.8 923.3,445" fill="#4a7cb4"/>
<polygon points="926.8,442.4 929.6,443.1 928.5,446.6 925.8,445.8" fill="#5aa0c8"/>
<polygon points="929.3,443.1 932.1,443.9 931,447.3 928.3,446.5" fill="#4a7cb4"/>
<polygon points="931.8,443.8 934.6,444.6 933.5,448.1 930.8,447.3" fill="#4a7cb4"/>
<polygon points="934.3,444.5 937.1,445.3 936,448.9 933.3,448" fill="#4a7cb4"/>
<polygon points="936.8,445.2 939.6,446 938.5,449.6 935.8,448.8" fill="#4460a2"/>
<polygon points="939.3,445.9 942.1,446.7 941,450.4 938.3,449.6" fill="#4460a2"/>
<polygon points="941.8,446.7 944.6,447.4 943.5,451.1 940.7,450.3" fill="#4460a2"/>
<polygon points="944.3,447.4 947.1,448.2 945.9,451.9 943.2,451.1" fill="#526aa4"/>
<polygon points="946.8,448.1 949.6,448.9 948.4,452.7 945.7,451.8" fill="#4a7cb4"/>
<polygon points="949.3,448.8 952.1,449.6 950.9,453.4 948.2,452.6" fill="#4a7cb4"/>
<polygon points="951.8,449.5 954.6,450.3 953.4,454.2 950.7,453.4" fill="#526aa4"/>
<polygon points="954.3,450.2 957.1,451 955.9,455 953.2,454.1" fill="#526aa4"/>
<polygon points="956.8,451 959.5,451.7 958.4,455.7 955.7,454.9" fill="#4a7cb4"/>
<polygon points="959.3,451.7 962,452.5 960.9,456.5 958.1,455.6" fill="#4460a2"/>
<polygon points="961.8,452.4 964.5,453.2 963.3,457.2 960.6,456.4" fill="#4460a2"/>
<polygon points="964.3,453.1 967,453.9 965.8,458 963.1,457.2" fill="#4460a2"/>
<polygon points="966.8,453.8 969.5,454.6 968.3,458.8 965.6,457.9" fill="#4a7cb4"/>
<polygon points="969.3,454.5 972,455.3 970.8,459.5 968.1,458.7" fill="#4460a2"/>
<polygon points="971.8,455.3 974.5,456 973.3,460.3 970.6,459.4" fill="#6678aa"/>
<polygon points="910.9,441.2 913.6,442 912.6,445.2 909.9,444.3" fill="#6678aa"/>
<polygon points="913.4,442 916.1,442.8 915.1,446 912.4,445.1" fill="#526aa4"/>
<polygon points="915.9,442.7 918.6,443.5 917.6,446.8 914.9,445.9" fill="#5a70a8"/>
<polygon points="918.4,443.5 921.1,444.3 920,447.6 917.3,446.7" fill="#4460a2"/>
<polygon points="920.9,444.2 923.6,445.1 922.5,448.4 919.8,447.5" fill="#4a7cb4"/>
<polygon points="923.3,445 926.1,445.8 925,449.2 922.3,448.3" fill="#4a7cb4"/>
<polygon points="925.8,445.8 928.5,446.6 927.5,450 924.8,449.1" fill="#4a7cb4"/>
<polygon points="928.3,446.5 931,447.3 929.9,450.8 927.2,449.9" fill="#4a7cb4"/>
<polygon points="930.8,447.3 933.5,448.1 932.4,451.6 929.7,450.7" fill="#4a7cb4"/>
<polygon points="933.3,448 936,448.9 934.9,452.4 932.2,451.5" fill="#4460a2"/>
<polygon points="935.8,448.8 938.5,449.6 937.4,453.2 934.7,452.3" fill="#5aa0c8"/>
<polygon points="938.3,449.6 941,450.4 939.8,454 937.1,453.1" fill="#526aa4"/>
<polygon points="940.7,450.3 943.5,451.1 942.3,454.8 939.6,454" fill="#4a7cb4"/>
<polygon points="943.2,451.1 945.9,451.9 944.8,455.6 942.1,454.8" fill="#66c2dc"/>
<polygon points="945.7,451.8 948.4,452.7 947.2,456.4 944.5,455.6" fill="#64d6c2"/>
<polygon points="948.2,452.6 950.9,453.4 949.7,457.2 947,456.4" fill="#40d66e"/>
<polygon points="950.7,453.4 953.4,454.2 952.2,458 949.5,457.2" fill="#5aa0c8"/>
<polygon points="953.2,454.1 955.9,455 954.7,458.8 952,458" fill="#4a7cb4"/>
<polygon points="955.7,454.9 958.4,455.7 957.1,459.7 954.4,458.8" fill="#4a7cb4"/>
<polygon points="958.1,455.6 960.9,456.5 959.6,460.5 956.9,459.6" fill="#4a7cb4"/>
<polygon points="960.6,456.4 963.3,457.2 962.1,461.3 959.4,460.4" fill="#4a7cb4"/>
<polygon points="963.1,457.2 965.8,458 964.6,462.1 961.9,461.2" fill="#526aa4"/>
<polygon points="965.6,457.9 968.3,458.8 967,462.9 964.3,462" fill="#526aa4"/>
<polygon points="968.1,458.7 970.8,459.5 969.5,463.7 966.8,462.8" fill="#526aa4"/>
<polygon points="909.9,444.3 912.6,445.2 911.6,448.3 908.9,447.4" fill="#6678aa"/>
<polygon points="912.4,445.1 915.1,446 914,449.2 911.3,448.3" fill="#6678aa"/>
<polygon points="914.9,445.9 917.6,446.8 916.5,450 913.8,449.1" fill="#4460a2"/>
<polygon points="917.3,446.7 920,447.6 918.9,450.9 916.3,449.9" fill="#5a70a8"/>
<polygon points="919.8,447.5 922.5,448.4 921.4,451.7 918.7,450.8" fill="#526aa4"/>
<polygon points="922.3,448.3 925,449.2 923.9,452.6 921.2,451.6" fill="#526aa4"/>
<polygon points="924.8,449.1 927.5,450 926.3,453.4 923.6,452.5" fill="#6678aa"/>
<polygon points="927.2,449.9 929.9,450.8 928.8,454.3 926.1,453.3" fill="#526aa4"/>
<polygon points="929.7,450.7 932.4,451.6 931.2,455.1 928.6,454.2" fill="#5a70a8"/>
<polygon points="932.2,451.5 934.9,452.4 933.7,456 931,455" fill="#5a70a8"/>
<polygon points="934.7,452.3 937.4,453.2 936.2,456.8 933.5,455.9" fill="#526aa4"/>
<polygon points="937.1,453.1 939.8,454 938.6,457.6 935.9,456.7" fill="#526aa4"/>
<polygon points="939.6,454 942.3,454.8 941.1,458.5 938.4,457.6" fill="#66c2dc"/>
<polygon points="942.1,454.8 944.8,455.6 943.5,459.3 940.8,458.4" fill="#14c81e"/>
<polygon points="944.5,455.6 947.2,456.4 946,460.2 943.3,459.3" fill="#14c81e"/>
<polygon points="947,456.4 949.7,457.2 948.4,461 945.8,460.1" fill="#14c81e"/>
<polygon points="949.5,457.2 952.2,458 950.9,461.9 948.2,461" fill="#12b41c"/>
<polygon points="952,458 954.7,458.8 953.4,462.7 950.7,461.8" fill="#5aa0c8"/>
<polygon points="954.4,458.8 957.1,459.7 955.8,463.6 953.1,462.6" fill="#40d66e"/>
<polygon points="956.9,459.6 959.6,460.5 958.3,464.4 955.6,463.5" fill="#66c2dc"/>
<polygon points="959.4,460.4 962.1,461.3 960.7,465.3 958.1,464.3" fill="#66c2dc"/>
<polygon points="961.9,461.2 964.6,462.1 963.2,466.1 960.5,465.2" fill="#5aa0c8"/>
<polygon points="964.3,462 967,462.9 965.7,467 963,466" fill="#66c2dc"/>
<polygon points="966.8,462.8 969.5,463.7 968.1,467.8 965.4,466.9" fill="#6678aa"/>
<polygon points="906.4,446.6 909.1,447.5 908,450.6 905.4,449.6" fill="#4460a2"/>
<polygon points="908.9,447.4 911.6,448.3 910.5,451.5 907.8,450.5" fill="#6678aa"/>
<polygon points="911.3,448.3 914,449.2 912.9,452.3 910.2,451.4" fill="#5a70a8"/>
<polygon points="913.8,449.1 916.5,450 915.4,453.2 912.7,452.3" fill="#4460a2"/>
<polygon points="916.3,449.9 918.9,450.9 917.8,454.1 915.1,453.2" fill="#526aa4"/>
<polygon points="918.7,450.8 921.4,451.7 920.2,455 917.6,454" fill="#6678aa"/>
<polygon points="921.2,451.6 923.9,452.6 922.7,455.9 920,454.9" fill="#6678aa"/>
<polygon points="923.6,452.5 926.3,453.4 925.1,456.8 922.5,455.8" fill="#526aa4"/>
<polygon points="926.1,453.3 928.8,454.3 927.6,457.7 924.9,456.7" fill="#4460a2"/>
<polygon points="928.6,454.2 931.2,455.1 930,458.6 927.3,457.6" fill="#6678aa"/>
<polygon points="931,455 933.7,456 932.5,459.5 929.8,458.5" fill="#6678aa"/>
<polygon points="933.5,455.9 936.2,456.8 934.9,460.3 932.2,459.4" fill="#526aa4"/>
<polygon points="935.9,456.7 938.6,457.6 937.3,461.2 934.7,460.3" fill="#4a7cb4"/>
<polygon points="938.4,457.6 941.1,458.5 939.8,462.1 937.1,461.2" fill="#5aa0c8"/>
<polygon points="940.8,458.4 943.5,459.3 942.2,463 939.6,462" fill="#66c2dc"/>
<polygon points="943.3,459.3 946,460.2 944.7,463.9 942,462.9" fill="#64d6c2"/>
<polygon points="945.8,460.1 948.4,461 947.1,464.8 944.4,463.8" fill="#14c81e"/>
<polygon points="948.2,461 950.9,461.9 949.6,465.7 946.9,464.7" fill="#14c81e"/>
<polygon points="950.7,461.8 953.4,462.7 952,466.6 949.3,465.6" fill="#14c81e"/>
<polygon points="953.1,462.6 955.8,463.6 954.4,467.5 951.8,466.5" fill="#40d66e"/>
<polygon points="955.6,463.5 958.3,464.4 956.9,468.4 954.2,467.4" fill="#40d66e"/>
<polygon points="958.1,464.3 960.7,465.3 959.3,469.2 956.7,468.3" fill="#64d6c2"/>
<polygon points="960.5,465.2 963.2,466.1 961.8,470.1 959.1,469.2" fill="#5aa0c8"/>
<polygon points="963,466 965.7,467 964.2,471 961.5,470" fill="#5aa0c8"/>
<polygon points="965.4,466.9 968.1,467.8 966.7,471.9 964,470.9" fill="#6678aa"/>
<polygon points="873.6,438 876.3,439 875.3,441.5 872.7,440.5" fill="#5a70a8"/>
<polygon points="905.4,449.6 908,450.6 906.9,453.6 904.2,452.6" fill="#4460a2"/>
<polygon points="907.8,450.5 910.5,451.5 909.3,454.6 906.7,453.5" fill="#526aa4"/>
<polygon points="910.2,451.4 912.9,452.3 911.7,455.5 909.1,454.5" fill="#6678aa"/>
<polygon points="912.7,452.3 915.4,453.2 914.2,456.4 911.5,455.4" fill="#526aa4"/>
<polygon points="915.1,453.2 917.8,454.1 916.6,457.4 913.9,456.3" fill="#4460a2"/>
<polygon points="917.6,454 920.2,455 919,458.3 916.4,457.3" fill="#526aa4"/>
<polygon points="920,454.9 922.7,455.9 921.4,459.2 918.8,458.2" fill="#6678aa"/>
<polygon points="922.5,455.8 925.1,456.8 923.9,460.2 921.2,459.1" fill="#4460a2"/>
<polygon points="924.9,456.7 927.6,457.7 926.3,461.1 923.6,460.1" fill="#5a70a8"/>
<polygon points="927.3,457.6 930,458.6 928.7,462 926.1,461" fill="#6678aa"/>
<polygon points="929.8,458.5 932.5,459.5 931.2,462.9 928.5,461.9" fill="#6678aa"/>
<polygon points="932.2,459.4 934.9,460.3 933.6,463.9 930.9,462.9" fill="#526aa4"/>
<polygon points="934.7,460.3 937.3,461.2 936,464.8 933.4,463.8" fill="#526aa4"/>
<polygon points="937.1,461.2 939.8,462.1 938.4,465.7 935.8,464.7" fill="#4460a2"/>
<polygon points="939.6,462 942.2,463 940.9,466.7 938.2,465.7" fill="#4460a2"/>
<polygon points="942,462.9 944.7,463.9 943.3,467.6 940.6,466.6" fill="#40d66e"/>
<polygon points="944.4,463.8 947.1,464.8 945.7,468.5 943.1,467.5" fill="#12b41c"/>
<polygon points="946.9,464.7 949.6,465.7 948.1,469.5 945.5,468.5" fill="#14c81e"/>
<polygon points="949.3,465.6 952,466.6 950.6,470.4 947.9,469.4" fill="#14c81e"/>
<polygon points="951.8,466.5 954.4,467.5 953,471.3 950.3,470.3" fill="#40d66e"/>
<polygon points="954.2,467.4 956.9,468.4 955.4,472.3 952.8,471.2" fill="#64d6c2"/>
<polygon points="956.7,468.3 959.3,469.2 957.9,473.2 955.2,472.2" fill="#66c2dc"/>
<polygon points="959.1,469.2 961.8,470.1 960.3,474.1 957.6,473.1" fill="#5aa0c8"/>
<polygon points="961.5,470 964.2,471 962.7,475.1 960.1,474" fill="#4a7cb4"/>
<polygon points="964,470.9 966.7,471.9 965.1,476 962.5,475" fill="#4460a2"/>
<polygon points="867.8,438.6 870.5,439.7 869.5,442.1 866.9,441" fill="#6678aa"/>
<polygon points="872.7,440.5 875.3,441.5 874.3,444 871.7,442.9" fill="#5a70a8"/>
<polygon points="875.1,441.4 877.8,442.4 876.8,445 874.1,443.9" fill="#526aa4"/>
<polygon points="877.5,442.4 880.2,443.4 879.2,446 876.5,444.9" fill="#6678aa"/>
<polygon points="880,443.3 882.6,444.3 881.6,446.9 878.9,445.9" fill="#6678aa"/>
<polygon points="911.5,455.4 914.2,456.4 912.9,459.6 910.3,458.5" fill="#526aa4"/>
<polygon points="913.9,456.3 916.6,457.4 915.3,460.6 912.7,459.5" fill="#4460a2"/>
<polygon points="923.6,460.1 926.3,461.1 925,464.5 922.3,463.4" fill="#5a70a8"/>
<polygon points="926.1,461 928.7,462 927.4,465.4 924.7,464.4" fill="#6678aa"/>
<polygon points="928.5,461.9 931.2,462.9 929.8,466.4 927.2,465.3" fill="#526aa4"/>
<polygon points="930.9,462.9 933.6,463.9 932.2,467.4 929.6,466.3" fill="#6678aa"/>
<polygon points="933.4,463.8 936,464.8 934.6,468.4 932,467.3" fill="#5a70a8"/>
<polygon points="935.8,464.7 938.4,465.7 937,469.3 934.4,468.3" fill="#6678aa"/>
<polygon points="938.2,465.7 940.9,466.7 939.4,470.3 936.8,469.2" fill="#6678aa"/>
<polygon points="940.6,466.6 943.3,467.6 941.8,471.3 939.2,470.2" fill="#6678aa"/>
<polygon points="943.1,467.5 945.7,468.5 944.3,472.3 941.6,471.2" fill="#64d6c2"/>
<polygon points="945.5,468.5 948.1,469.5 946.7,473.2 944,472.2" fill="#40d66e"/>
<polygon points="947.9,469.4 950.6,470.4 949.1,474.2 946.4,473.1" fill="#40d66e"/>
<polygon points="950.3,470.3 953,471.3 951.5,475.2 948.8,474.1" fill="#66c2dc"/>
<polygon points="952.8,471.2 955.4,472.3 953.9,476.2 951.3,475.1" fill="#526aa4"/>
<polygon points="955.2,472.2 957.9,473.2 956.3,477.1 953.7,476.1" fill="#5a70a8"/>
<polygon points="957.6,473.1 960.3,474.1 958.7,478.1 956.1,477" fill="#526aa4"/>
<polygon points="960.1,474 962.7,475.1 961.1,479.1 958.5,478" fill="#6678aa"/>
<polygon points="864.5,440 867.1,441.1 866.1,443.4 863.5,442.3" fill="#5a70a8"/>
<polygon points="866.9,441 869.5,442.1 868.5,444.5 865.9,443.3" fill="#4460a2"/>
<polygon points="869.3,442 871.9,443 870.9,445.5 868.3,444.4" fill="#6678aa"/>
<polygon points="871.7,442.9 874.3,444 873.3,446.5 870.7,445.4" fill="#4460a2"/>
<polygon points="874.1,443.9 876.8,445 875.7,447.5 873.1,446.4" fill="#526aa4"/>
<polygon points="876.5,444.9 879.2,446 878.1,448.5 875.5,447.4" fill="#526aa4"/>
<polygon points="878.9,445.9 881.6,446.9 880.5,449.5 877.9,448.4" fill="#4a7cb4"/>
<polygon points="881.4,446.8 884,447.9 882.9,450.5 880.3,449.4" fill="#4460a2"/>
<polygon points="883.8,447.8 886.4,448.9 885.3,451.6 882.7,450.5" fill="#6678aa"/>
<polygon points="886.2,448.8 888.8,449.9 887.7,452.6 885.1,451.5" fill="#6678aa"/>
<polygon points="893.4,451.7 896,452.8 894.9,455.6 892.2,454.5" fill="#526aa4"/>
<polygon points="917.5,461.5 920.1,462.5 918.8,465.8 916.2,464.7" fill="#5a70a8"/>
<polygon points="924.7,464.4 927.4,465.4 926,468.8 923.4,467.7" fill="#6678aa"/>
<polygon points="927.2,465.3 929.8,466.4 928.4,469.9 925.7,468.7" fill="#5a70a8"/>
<polygon points="929.6,466.3 932.2,467.4 930.8,470.9 928.1,469.8" fill="#6678aa"/>
<polygon points="932,467.3 934.6,468.4 933.1,471.9 930.5,470.8" fill="#526aa4"/>
<polygon points="934.4,468.3 937,469.3 935.5,472.9 932.9,471.8" fill="#5a70a8"/>
<polygon points="936.8,469.2 939.4,470.3 937.9,473.9 935.3,472.8" fill="#5a70a8"/>
<polygon points="939.2,470.2 941.8,471.3 940.3,474.9 937.7,473.8" fill="#526aa4"/>
<polygon points="941.6,471.2 944.3,472.3 942.7,475.9 940.1,474.8" fill="#6678aa"/>
<polygon points="944,472.2 946.7,473.2 945.1,477 942.5,475.9" fill="#526aa4"/>
<polygon points="946.4,473.1 949.1,474.2 947.5,478 944.9,476.9" fill="#526aa4"/>
<polygon points="948.8,474.1 951.5,475.2 949.9,479 947.3,477.9" fill="#5a70a8"/>
<polygon points="951.3,475.1 953.9,476.2 952.3,480 949.7,478.9" fill="#6678aa"/>
<polygon points="953.7,476.1 956.3,477.1 954.7,481 952.1,479.9" fill="#526aa4"/>
<polygon points="863.5,442.3 866.1,443.4 865.1,445.8 862.5,444.6" fill="#5a70a8"/>
<polygon points="865.9,443.3 868.5,444.5 867.5,446.8 864.9,445.7" fill="#6678aa"/>
<polygon points="868.3,444.4 870.9,445.5 869.9,447.9 867.3,446.7" fill="#526aa4"/>
<polygon points="870.7,445.4 873.3,446.5 872.2,448.9 869.7,447.8" fill="#4460a2"/>
<polygon points="873.1,446.4 875.7,447.5 874.6,450 872,448.8" fill="#66c2dc"/>
<polygon points="875.5,447.4 878.1,448.5 877,451.1 874.4,449.9" fill="#4a7cb4"/>
<polygon points="877.9,448.4 880.5,449.5 879.4,452.1 876.8,451" fill="#4a7cb4"/>
<polygon points="880.3,449.4 882.9,450.5 881.7,453.2 879.2,452" fill="#4a7cb4"/>
<polygon points="882.7,450.5 885.3,451.6 884.1,454.2 881.5,453.1" fill="#64d6c2"/>
<polygon points="885.1,451.5 887.7,452.6 886.5,455.3 883.9,454.1" fill="#5aa0c8"/>
<polygon points="887.5,452.5 890.1,453.6 888.9,456.3 886.3,455.2" fill="#4460a2"/>
<polygon points="892.2,454.5 894.9,455.6 893.6,458.5 891,457.3" fill="#5a70a8"/>
<polygon points="916.2,464.7 918.8,465.8 917.4,469 914.8,467.9" fill="#526aa4"/>
<polygon points="935.3,472.8 937.9,473.9 936.4,477.5 933.8,476.3" fill="#6678aa"/>
<polygon points="937.7,473.8 940.3,474.9 938.8,478.6 936.2,477.4" fill="#5a70a8"/>
<polygon points="940.1,474.8 942.7,475.9 941.1,479.6 938.5,478.5" fill="#526aa4"/>
<polygon points="942.5,475.9 945.1,477 943.5,480.7 940.9,479.5" fill="#6678aa"/>
<polygon points="944.9,476.9 947.5,478 945.9,481.7 943.3,480.6" fill="#4460a2"/>
<polygon points="947.3,477.9 949.9,479 948.3,482.8 945.7,481.6" fill="#526aa4"/>
<polygon points="864.9,445.7 867.5,446.8 866.4,449.2 863.8,448" fill="#6678aa"/>
<polygon points="867.3,446.7 869.9,447.9 868.8,450.3 866.2,449.1" fill="#6678aa"/>
<polygon points="869.7,447.8 872.2,448.9 871.1,451.4 868.6,450.2" fill="#5aa0c8"/>
<polygon points="872,448.8 874.6,450 873.5,452.5 870.9,451.3" fill="#526aa4"/>
<polygon points="874.4,449.9 877,451.1 875.8,453.6 873.3,452.4" fill="#66c2dc"/>
<polygon points="876.8,451 879.4,452.1 878.2,454.7 875.6,453.5" fill="#526aa4"/>
<polygon points="879.2,452 881.7,453.2 880.6,455.8 878,454.6" fill="#4a7cb4"/>
<polygon points="881.5,453.1 884.1,454.2 882.9,456.9 880.3,455.7" fill="#5aa0c8"/>
<polygon points="883.9,454.1 886.5,455.3 885.3,458 882.7,456.8" fill="#5aa0c8"/>
<polygon points="886.3,455.2 888.9,456.3 887.6,459.1 885.1,457.9" fill="#5a70a8"/>
<polygon points="936.2,477.4 938.8,478.6 937.1,482.1 934.5,480.9" fill="#5a70a8"/>
<polygon points="938.5,478.5 941.1,479.6 939.5,483.2 936.9,482" fill="#526aa4"/>
<polygon points="940.9,479.5 943.5,480.7 941.8,484.3 939.3,483.1" fill="#6678aa"/>
<polygon points="943.3,480.6 945.9,481.7 944.2,485.4 941.6,484.2" fill="#526aa4"/>
<polygon points="863.8,448 866.4,449.2 865.3,451.5 862.8,450.3" fill="#526aa4"/>
<polygon points="866.2,449.1 868.8,450.3 867.6,452.7 865.1,451.4" fill="#526aa4"/>
<polygon points="868.6,450.2 871.1,451.4 870,453.8 867.4,452.6" fill="#4460a2"/>
<polygon points="870.9,451.3 873.5,452.5 872.3,454.9 869.8,453.7" fill="#5aa0c8"/>
<polygon points="873.3,452.4 875.8,453.6 874.7,456.1 872.1,454.8" fill="#66c2dc"/>
<polygon points="875.6,453.5 878.2,454.7 877,457.2 874.4,456" fill="#66c2dc"/>
<polygon points="878,454.6 880.6,455.8 879.3,458.4 876.8,457.1" fill="#66c2dc"/>
<polygon points="880.3,455.7 882.9,456.9 881.7,459.5 879.1,458.3" fill="#66c2dc"/>
<polygon points="882.7,456.8 885.3,458 884,460.6 881.5,459.4" fill="#4a7cb4"/>
<polygon points="885.1,457.9 887.6,459.1 886.3,461.8 883.8,460.5" fill="#526aa4"/>
<polygon points="894.5,462.3 897.1,463.5 895.7,466.3 893.1,465.1" fill="#526aa4"/>
<polygon points="896.8,463.4 899.4,464.6 898,467.5 895.5,466.2" fill="#4460a2"/>
<polygon points="934.5,480.9 937.1,482.1 935.4,485.7 932.9,484.5" fill="#6678aa"/>
<polygon points="936.9,482 939.5,483.2 937.8,486.9 935.2,485.6" fill="#6678aa"/>
<polygon points="939.3,483.1 941.8,484.3 940.1,488 937.5,486.7" fill="#4460a2"/>
<polygon points="862.8,450.3 865.3,451.5 864.2,453.8 861.6,452.5" fill="#6678aa"/>
<polygon points="865.1,451.4 867.6,452.7 866.5,455 863.9,453.7" fill="#4460a2"/>
<polygon points="867.4,452.6 870,453.8 868.8,456.2 866.3,454.9" fill="#4460a2"/>
<polygon points="869.8,453.7 872.3,454.9 871.1,457.4 868.6,456.1" fill="#4a7cb4"/>
<polygon points="872.1,454.8 874.7,456.1 873.4,458.6 870.9,457.3" fill="#5aa0c8"/>
<polygon points="874.4,456 877,457.2 875.7,459.7 873.2,458.4" fill="#526aa4"/>
<polygon points="876.8,457.1 879.3,458.4 878.1,460.9 875.5,459.6" fill="#64d6c2"/>
<polygon points="879.1,458.3 881.7,459.5 880.4,462.1 877.8,460.8" fill="#526aa4"/>
<polygon points="881.5,459.4 884,460.6 882.7,463.3 880.2,462" fill="#6678aa"/>
<polygon points="883.8,460.5 886.3,461.8 885,464.5 882.5,463.2" fill="#6678aa"/>
<polygon points="886.1,461.7 888.7,462.9 887.3,465.6 884.8,464.4" fill="#6678aa"/>
<polygon points="888.5,462.8 891,464.1 889.6,466.8 887.1,465.5" fill="#526aa4"/>
<polygon points="890.8,464 893.4,465.2 892,468 889.4,466.7" fill="#4460a2"/>
<polygon points="893.1,465.1 895.7,466.3 894.3,469.2 891.7,467.9" fill="#526aa4"/>
<polygon points="895.5,466.2 898,467.5 896.6,470.4 894.1,469.1" fill="#6678aa"/>
<polygon points="904.8,470.8 907.4,472 905.9,475.1 903.3,473.8" fill="#526aa4"/>
<polygon points="932.9,484.5 935.4,485.7 933.7,489.2 931.1,488" fill="#526aa4"/>
<polygon points="935.2,485.6 937.8,486.9 936,490.4 933.4,489.1" fill="#4460a2"/>
<polygon points="861.6,452.5 864.2,453.8 863,456.1 860.5,454.8" fill="#4460a2"/>
<polygon points="863.9,453.7 866.5,455 865.3,457.4 862.7,456" fill="#526aa4"/>
<polygon points="866.3,454.9 868.8,456.2 867.6,458.6 865,457.2" fill="#5aa0c8"/>
<polygon points="868.6,456.1 871.1,457.4 869.8,459.8 867.3,458.5" fill="#4460a2"/>
<polygon points="870.9,457.3 873.4,458.6 872.1,461 869.6,459.7" fill="#64d6c2"/>
<polygon points="873.2,458.4 875.7,459.7 874.4,462.2 871.9,460.9" fill="#5aa0c8"/>
<polygon points="875.5,459.6 878.1,460.9 876.7,463.5 874.2,462.1" fill="#66c2dc"/>
<polygon points="877.8,460.8 880.4,462.1 879,464.7 876.5,463.3" fill="#4a7cb4"/>
<polygon points="882.5,463.2 885,464.5 883.6,467.1 881.1,465.8" fill="#4460a2"/>
<polygon points="884.8,464.4 887.3,465.6 885.9,468.3 883.4,467" fill="#6678aa"/>
<polygon points="887.1,465.5 889.6,466.8 888.2,469.6 885.7,468.2" fill="#6678aa"/>
<polygon points="889.4,466.7 892,468 890.5,470.8 888,469.4" fill="#6678aa"/>
<polygon points="891.7,467.9 894.3,469.2 892.8,472 890.3,470.7" fill="#6678aa"/>
<polygon points="894.1,469.1 896.6,470.4 895.1,473.2 892.6,471.9" fill="#5a70a8"/>
<polygon points="903.3,473.8 905.9,475.1 904.3,478.1 901.8,476.8" fill="#526aa4"/>
<polygon points="860.5,454.8 863,456.1 861.7,458.4 859.2,457" fill="#526aa4"/>
<polygon points="862.7,456 865.3,457.4 864,459.7 861.5,458.3" fill="#4a7cb4"/>
<polygon points="865,457.2 867.6,458.6 866.3,460.9 863.8,459.6" fill="#526aa4"/>
<polygon points="867.3,458.5 869.8,459.8 868.5,462.2 866.1,460.8" fill="#66c2dc"/>
<polygon points="869.6,459.7 872.1,461 870.8,463.4 868.3,462.1" fill="#5aa0c8"/>
<polygon points="871.9,460.9 874.4,462.2 873.1,464.7 870.6,463.3" fill="#66c2dc"/>
<polygon points="874.2,462.1 876.7,463.5 875.4,466 872.9,464.6" fill="#66c2dc"/>
<polygon points="876.5,463.3 879,464.7 877.6,467.2 875.2,465.9" fill="#526aa4"/>
<polygon points="881.1,465.8 883.6,467.1 882.2,469.8 879.7,468.4" fill="#6678aa"/>
<polygon points="883.4,467 885.9,468.3 884.5,471 882,469.6" fill="#526aa4"/>
<polygon points="885.7,468.2 888.2,469.6 886.7,472.3 884.3,470.9" fill="#4460a2"/>
<polygon points="888,469.4 890.5,470.8 889,473.5 886.5,472.2" fill="#5a70a8"/>
<polygon points="890.3,470.7 892.8,472 891.3,474.8 888.8,473.4" fill="#5a70a8"/>
<polygon points="892.6,471.9 895.1,473.2 893.6,476.1 891.1,474.7" fill="#6678aa"/>
<polygon points="901.8,476.8 904.3,478.1 902.7,481.1 900.2,479.7" fill="#6678aa"/>
<polygon points="904.1,478 906.6,479.3 904.9,482.4 902.4,481" fill="#6678aa"/>
<polygon points="908.7,480.4 911.2,481.8 909.5,484.9 907,483.5" fill="#6678aa"/>
<polygon points="859.2,457 861.7,458.4 860.4,460.7 858,459.2" fill="#5a70a8"/>
<polygon points="861.5,458.3 864,459.7 862.7,462 860.2,460.5" fill="#4a7cb4"/>
<polygon points="863.8,459.6 866.3,460.9 865,463.3 862.5,461.8" fill="#526aa4"/>
<polygon points="866.1,460.8 868.5,462.2 867.2,464.6 864.7,463.1" fill="#5aa0c8"/>
<polygon points="868.3,462.1 870.8,463.4 869.5,465.9 867,464.4" fill="#64d6c2"/>
<polygon points="870.6,463.3 873.1,464.7 871.7,467.2 869.2,465.7" fill="#5aa0c8"/>
<polygon points="872.9,464.6 875.4,466 874,468.5 871.5,467" fill="#66c2dc"/>
<polygon points="875.2,465.9 877.6,467.2 876.2,469.8 873.8,468.3" fill="#5aa0c8"/>
<polygon points="877.4,467.1 879.9,468.5 878.5,471.1 876,469.6" fill="#5a70a8"/>
<polygon points="882,469.6 884.5,471 883,473.7 880.5,472.2" fill="#6678aa"/>
<polygon points="884.3,470.9 886.7,472.3 885.2,475 882.8,473.5" fill="#526aa4"/>
<polygon points="886.5,472.2 889,473.5 887.5,476.3 885,474.8" fill="#526aa4"/>
<polygon points="888.8,473.4 891.3,474.8 889.7,477.6 887.3,476.1" fill="#6678aa"/>
<polygon points="891.1,474.7 893.6,476.1 892,478.9 889.5,477.4" fill="#526aa4"/>
<polygon points="900.2,479.7 902.7,481.1 901,484.1 898.5,482.6" fill="#6678aa"/>
<polygon points="902.4,481 904.9,482.4 903.2,485.4 900.8,483.9" fill="#6678aa"/>
<polygon points="904.7,482.2 907.2,483.6 905.5,486.7 903,485.2" fill="#6678aa"/>
<polygon points="907,483.5 909.5,484.9 907.7,488 905.3,486.5" fill="#526aa4"/>
<polygon points="909.3,484.8 911.8,486.1 910,489.3 907.5,487.8" fill="#4460a2"/>
<polygon points="855.7,457.9 858.2,459.4 856.9,461.6 854.5,460.1" fill="#6678aa"/>
<polygon points="858,459.2 860.4,460.7 859.1,462.9 856.7,461.4" fill="#6678aa"/>
<polygon points="860.2,460.5 862.7,462 861.4,464.2 858.9,462.8" fill="#4a7cb4"/>
<polygon points="862.5,461.8 865,463.3 863.6,465.6 861.2,464.1" fill="#5aa0c8"/>
<polygon points="864.7,463.1 867.2,464.6 865.8,466.9 863.4,465.4" fill="#66c2dc"/>
<polygon points="867,464.4 869.5,465.9 868,468.2 865.6,466.8" fill="#64d6c2"/>
<polygon points="869.2,465.7 871.7,467.2 870.3,469.6 867.8,468.1" fill="#66c2dc"/>
<polygon points="871.5,467 874,468.5 872.5,470.9 870.1,469.5" fill="#40d66e"/>
<polygon points="873.8,468.3 876.2,469.8 874.7,472.3 872.3,470.8" fill="#66c2dc"/>
<polygon points="876,469.6 878.5,471.1 877,473.6 874.5,472.1" fill="#4460a2"/>
<polygon points="880.5,472.2 883,473.7 881.4,476.3 879,474.8" fill="#6678aa"/>
<polygon points="882.8,473.5 885.2,475 883.7,477.6 881.2,476.2" fill="#526aa4"/>
<polygon points="885,474.8 887.5,476.3 885.9,479 883.4,477.5" fill="#526aa4"/>
<polygon points="887.3,476.1 889.7,477.6 888.1,480.3 885.7,478.8" fill="#526aa4"/>
<polygon points="889.5,477.4 892,478.9 890.3,481.6 887.9,480.2" fill="#6678aa"/>
<polygon points="900.8,483.9 903.2,485.4 901.5,488.3 899,486.9" fill="#6678aa"/>
<polygon points="903,485.2 905.5,486.7 903.7,489.7 901.3,488.2" fill="#4460a2"/>
<polygon points="905.3,486.5 907.7,488 905.9,491 903.5,489.5" fill="#5aa0c8"/>
<polygon points="907.5,487.8 910,489.3 908.2,492.4 905.7,490.9" fill="#6678aa"/>
<polygon points="854.5,460.1 856.9,461.6 855.6,463.7 853.2,462.2" fill="#526aa4"/>
<polygon points="856.7,461.4 859.1,462.9 857.8,465.1 855.4,463.6" fill="#526aa4"/>
<polygon points="858.9,462.8 861.4,464.2 860,466.5 857.6,465" fill="#4a7cb4"/>
<polygon points="861.2,464.1 863.6,465.6 862.2,467.9 859.8,466.3" fill="#64d6c2"/>
<polygon points="863.4,465.4 865.8,466.9 864.4,469.2 862,467.7" fill="#14c81e"/>
<polygon points="865.6,466.8 868,468.2 866.6,470.6 864.2,469.1" fill="#14c81e"/>
<polygon points="867.8,468.1 870.3,469.6 868.8,472 866.4,470.5" fill="#40d66e"/>
<polygon points="870.1,469.5 872.5,470.9 871,473.4 868.6,471.9" fill="#40d66e"/>
<polygon points="872.3,470.8 874.7,472.3 873.2,474.7 870.8,473.2" fill="#64d6c2"/>
<polygon points="874.5,472.1 877,473.6 875.4,476.1 873,474.6" fill="#4460a2"/>
<polygon points="876.8,473.5 879.2,474.9 877.6,477.5 875.2,476" fill="#4460a2"/>
<polygon points="881.2,476.2 883.7,477.6 882,480.3 879.6,478.7" fill="#6678aa"/>
<polygon points="883.4,477.5 885.9,479 884.2,481.6 881.8,480.1" fill="#6678aa"/>
<polygon points="885.7,478.8 888.1,480.3 886.4,483 884,481.5" fill="#5a70a8"/>
<polygon points="887.9,480.2 890.3,481.6 888.7,484.4 886.2,482.9" fill="#526aa4"/>
<polygon points="890.1,481.5 892.6,483 890.9,485.8 888.4,484.3" fill="#5a70a8"/>
<polygon points="896.8,485.5 899.3,487 897.5,489.9 895.1,488.4" fill="#526aa4"/>
<polygon points="899,486.9 901.5,488.3 899.7,491.3 897.3,489.8" fill="#5a70a8"/>
<polygon points="901.3,488.2 903.7,489.7 901.9,492.7 899.5,491.1" fill="#526aa4"/>
<polygon points="903.5,489.5 905.9,491 904.1,494 901.7,492.5" fill="#5aa0c8"/>
<polygon points="905.7,490.9 908.2,492.4 906.3,495.4 903.9,493.9" fill="#6678aa"/>
<polygon points="908,492.2 910.4,493.7 908.5,496.8 906.1,495.3" fill="#526aa4"/>
<polygon points="851,460.8 853.4,462.3 852,464.4 849.6,462.9" fill="#4460a2"/>
<polygon points="853.2,462.2 855.6,463.7 854.2,465.9 851.8,464.3" fill="#5a70a8"/>
<polygon points="855.4,463.6 857.8,465.1 856.4,467.3 854,465.7" fill="#4460a2"/>
<polygon points="857.6,465 860,466.5 858.6,468.7 856.2,467.2" fill="#64d6c2"/>
<polygon points="859.8,466.3 862.2,467.9 860.8,470.1 858.4,468.6" fill="#64d6c2"/>
<polygon points="862,467.7 864.4,469.2 862.9,471.5 860.6,470" fill="#14c81e"/>
<polygon points="864.2,469.1 866.6,470.6 865.1,472.9 862.7,471.4" fill="#14c81e"/>
<polygon points="866.4,470.5 868.8,472 867.3,474.4 864.9,472.8" fill="#14c81e"/>
<polygon points="868.6,471.9 871,473.4 869.5,475.8 867.1,474.2" fill="#14c81e"/>
<polygon points="870.8,473.2 873.2,474.7 871.7,477.2 869.3,475.6" fill="#5aa0c8"/>
<polygon points="873,474.6 875.4,476.1 873.8,478.6 871.5,477.1" fill="#4460a2"/>
<polygon points="875.2,476 877.6,477.5 876,480 873.6,478.5" fill="#526aa4"/>
<polygon points="879.6,478.7 882,480.3 880.4,482.9 878,481.3" fill="#4460a2"/>
<polygon points="881.8,480.1 884.2,481.6 882.6,484.3 880.2,482.7" fill="#5a70a8"/>
<polygon points="884,481.5 886.4,483 884.7,485.7 882.4,484.1" fill="#6678aa"/>
<polygon points="886.2,482.9 888.7,484.4 886.9,487.1 884.5,485.6" fill="#6678aa"/>
<polygon points="888.4,484.3 890.9,485.8 889.1,488.5 886.7,487" fill="#5a70a8"/>
<polygon points="895.1,488.4 897.5,489.9 895.6,492.8 893.3,491.2" fill="#5a70a8"/>
<polygon points="897.3,489.8 899.7,491.3 897.8,494.2 895.4,492.6" fill="#526aa4"/>
<polygon points="899.5,491.1 901.9,492.7 900,495.6 897.6,494.1" fill="#6678aa"/>
<polygon points="901.7,492.5 904.1,494 902.2,497 899.8,495.5" fill="#64d6c2"/>
<polygon points="903.9,493.9 906.3,495.4 904.4,498.4 902,496.9" fill="#526aa4"/>
<polygon points="906.1,495.3 908.5,496.8 906.5,499.9 904.2,498.3" fill="#5a70a8"/>
<polygon points="908.3,496.7 910.7,498.2 908.7,501.3 906.3,499.7" fill="#526aa4"/>
<polygon points="849.6,462.9 852,464.4 850.7,466.5 848.3,464.9" fill="#5a70a8"/>
<polygon points="851.8,464.3 854.2,465.9 852.8,468 850.5,466.4" fill="#6678aa"/>
<polygon points="854,465.7 856.4,467.3 855,469.4 852.6,467.9" fill="#5aa0c8"/>
<polygon points="856.2,467.2 858.6,468.7 857.1,470.9 854.8,469.3" fill="#4a7cb4"/>
<polygon points="858.4,468.6 860.8,470.1 859.3,472.3 856.9,470.8" fill="#14c81e"/>
<polygon points="860.6,470 862.9,471.5 861.4,473.8 859.1,472.2" fill="#40d66e"/>
<polygon points="862.7,471.4 865.1,472.9 863.6,475.3 861.2,473.7" fill="#40d66e"/>
<polygon points="864.9,472.8 867.3,474.4 865.7,476.7 863.4,475.1" fill="#14c81e"/>
<polygon points="867.1,474.2 869.5,475.8 867.9,478.2 865.5,476.6" fill="#66c2dc"/>
<polygon points="869.3,475.6 871.7,477.2 870.1,479.6 867.7,478" fill="#5aa0c8"/>
<polygon points="871.5,477.1 873.8,478.6 872.2,481.1 869.9,479.5" fill="#4a7cb4"/>
<polygon points="873.6,478.5 876,480 874.4,482.5 872,480.9" fill="#526aa4"/>
<polygon points="875.8,479.9 878.2,481.4 876.5,484 874.2,482.4" fill="#6678aa"/>
<polygon points="880.2,482.7 882.6,484.3 880.8,486.9 878.5,485.3" fill="#6678aa"/>
<polygon points="882.4,484.1 884.7,485.7 883,488.3 880.6,486.8" fill="#4460a2"/>
<polygon points="884.5,485.6 886.9,487.1 885.1,489.8 882.8,488.2" fill="#5a70a8"/>
<polygon points="893.3,491.2 895.6,492.8 893.8,495.6 891.4,494" fill="#6678aa"/>
<polygon points="895.4,492.6 897.8,494.2 895.9,497.1 893.6,495.5" fill="#526aa4"/>
<polygon points="897.6,494.1 900,495.6 898.1,498.5 895.7,496.9" fill="#4460a2"/>
<polygon points="899.8,495.5 902.2,497 900.2,500 897.9,498.4" fill="#6678aa"/>
<polygon points="902,496.9 904.4,498.4 902.4,501.4 900,499.8" fill="#5a70a8"/>
<polygon points="904.2,498.3 906.5,499.9 904.5,502.9 902.2,501.3" fill="#6678aa"/>
<polygon points="906.3,499.7 908.7,501.3 906.7,504.3 904.3,502.7" fill="#526aa4"/>
<polygon points="908.5,501.1 910.9,502.7 908.9,505.8 906.5,504.2" fill="#526aa4"/>
<polygon points="848.3,464.9 850.7,466.5 849.2,468.6 846.9,467" fill="#526aa4"/>
<polygon points="850.5,466.4 852.8,468 851.4,470.1 849,468.5" fill="#526aa4"/>
<polygon points="852.6,467.9 855,469.4 853.5,471.6 851.2,469.9" fill="#4a7cb4"/>
<polygon points="854.8,469.3 857.1,470.9 855.6,473.1 853.3,471.4" fill="#4a7cb4"/>
<polygon points="856.9,470.8 859.3,472.3 857.8,474.6 855.4,472.9" fill="#64d6c2"/>
<polygon points="859.1,472.2 861.4,473.8 859.9,476 857.6,474.4" fill="#12b41c"/>
<polygon points="861.2,473.7 863.6,475.3 862,477.5 859.7,475.9" fill="#14c81e"/>
<polygon points="863.4,475.1 865.7,476.7 864.1,479 861.8,477.4" fill="#14c81e"/>
<polygon points="865.5,476.6 867.9,478.2 866.3,480.5 863.9,478.9" fill="#66c2dc"/>
<polygon points="867.7,478 870.1,479.6 868.4,482 866.1,480.4" fill="#66c2dc"/>
<polygon points="869.9,479.5 872.2,481.1 870.5,483.5 868.2,481.9" fill="#4a7cb4"/>
<polygon points="872,480.9 874.4,482.5 872.7,485 870.3,483.4" fill="#6678aa"/>
<polygon points="874.2,482.4 876.5,484 874.8,486.5 872.5,484.9" fill="#4460a2"/>
<polygon points="876.3,483.8 878.7,485.4 876.9,488 874.6,486.3" fill="#4460a2"/>
<polygon points="878.5,485.3 880.8,486.9 879.1,489.5 876.7,487.8" fill="#526aa4"/>
<polygon points="880.6,486.8 883,488.3 881.2,491 878.9,489.3" fill="#6678aa"/>
<polygon points="882.8,488.2 885.1,489.8 883.3,492.5 881,490.8" fill="#526aa4"/>
<polygon points="891.4,494 893.8,495.6 891.8,498.4 889.5,496.8" fill="#6678aa"/>
<polygon points="893.6,495.5 895.9,497.1 894,499.9 891.6,498.3" fill="#6678aa"/>
<polygon points="895.7,496.9 898.1,498.5 896.1,501.4 893.8,499.8" fill="#526aa4"/>
<polygon points="897.9,498.4 900.2,500 898.2,502.9 895.9,501.3" fill="#6678aa"/>
<polygon points="900,499.8 902.4,501.4 900.4,504.4 898,502.8" fill="#526aa4"/>
<polygon points="902.2,501.3 904.5,502.9 902.5,505.9 900.2,504.2" fill="#526aa4"/>
<polygon points="904.3,502.7 906.7,504.3 904.6,507.4 902.3,505.7" fill="#6678aa"/>
<polygon points="906.5,504.2 908.9,505.8 906.7,508.9 904.4,507.2" fill="#526aa4"/>
<polygon points="849,468.5 851.4,470.1 849.9,472.2 847.6,470.5" fill="#6678aa"/>
<polygon points="851.2,469.9 853.5,471.6 852,473.7 849.7,472" fill="#4460a2"/>
<polygon points="853.3,471.4 855.6,473.1 854.1,475.2 851.8,473.5" fill="#5aa0c8"/>
<polygon points="855.4,472.9 857.8,474.6 856.2,476.7 853.9,475.1" fill="#64d6c2"/>
<polygon points="857.6,474.4 859.9,476 858.3,478.3 856,476.6" fill="#14c81e"/>
<polygon points="859.7,475.9 862,477.5 860.4,479.8 858.1,478.1" fill="#14c81e"/>
<polygon points="861.8,477.4 864.1,479 862.5,481.3 860.2,479.7" fill="#14c81e"/>
<polygon points="863.9,478.9 866.3,480.5 864.6,482.8 862.3,481.2" fill="#5aa0c8"/>
<polygon points="866.1,480.4 868.4,482 866.7,484.4 864.4,482.7" fill="#4a7cb4"/>
<polygon points="868.2,481.9 870.5,483.5 868.8,485.9 866.5,484.2" fill="#526aa4"/>
<polygon points="870.3,483.4 872.7,485 870.9,487.4 868.6,485.8" fill="#5a70a8"/>
<polygon points="872.5,484.9 874.8,486.5 873,489 870.7,487.3" fill="#4460a2"/>
<polygon points="874.6,486.3 876.9,488 875.1,490.5 872.8,488.8" fill="#4460a2"/>
<polygon points="876.7,487.8 879.1,489.5 877.2,492 874.9,490.3" fill="#6678aa"/>
<polygon points="878.9,489.3 881.2,491 879.3,493.5 877,491.9" fill="#5a70a8"/>
<polygon points="881,490.8 883.3,492.5 881.4,495.1 879.1,493.4" fill="#526aa4"/>
<polygon points="887.4,495.3 889.7,496.9 887.8,499.7 885.5,498" fill="#5a70a8"/>
<polygon points="889.5,496.8 891.8,498.4 889.9,501.2 887.6,499.5" fill="#526aa4"/>
<polygon points="891.6,498.3 894,499.9 892,502.7 889.7,501" fill="#4460a2"/>
<polygon points="893.8,499.8 896.1,501.4 894.1,504.2 891.8,502.6" fill="#5aa0c8"/>
<polygon points="895.9,501.3 898.2,502.9 896.2,505.8 893.9,504.1" fill="#526aa4"/>
<polygon points="898,502.8 900.4,504.4 898.3,507.3 896,505.6" fill="#6678aa"/>
<polygon points="900.2,504.2 902.5,505.9 900.4,508.8 898.1,507.2" fill="#526aa4"/>
<polygon points="902.3,505.7 904.6,507.4 902.5,510.4 900.2,508.7" fill="#4460a2"/>
<polygon points="904.4,507.2 906.7,508.9 904.6,511.9 902.3,510.2" fill="#6678aa"/>
<polygon points="843.4,467.4 845.7,469.1 844.2,471.1 842,469.4" fill="#5a70a8"/>
<polygon points="845.5,469 847.8,470.6 846.3,472.6 844,470.9" fill="#6678aa"/>
<polygon points="847.6,470.5 849.9,472.2 848.4,474.2 846.1,472.5" fill="#4460a2"/>
<polygon points="849.7,472 852,473.7 850.5,475.8 848.2,474.1" fill="#6678aa"/>
<polygon points="851.8,473.5 854.1,475.2 852.5,477.3 850.3,475.6" fill="#4a7cb4"/>
<polygon points="853.9,475.1 856.2,476.7 854.6,478.9 852.3,477.2" fill="#5aa0c8"/>
<polygon points="856,476.6 858.3,478.3 856.7,480.5 854.4,478.7" fill="#14c81e"/>
<polygon points="858.1,478.1 860.4,479.8 858.8,482 856.5,480.3" fill="#14c81e"/>
<polygon points="860.2,479.7 862.5,481.3 860.8,483.6 858.6,481.9" fill="#64d6c2"/>
<polygon points="862.3,481.2 864.6,482.8 862.9,485.1 860.6,483.4" fill="#64d6c2"/>
<polygon points="864.4,482.7 866.7,484.4 865,486.7 862.7,485" fill="#4a7cb4"/>
<polygon points="866.5,484.2 868.8,485.9 867.1,488.3 864.8,486.6" fill="#4460a2"/>
<polygon points="868.6,485.8 870.9,487.4 869.1,489.8 866.9,488.1" fill="#6678aa"/>
<polygon points="870.7,487.3 873,489 871.2,491.4 869,489.7" fill="#5a70a8"/>
<polygon points="872.8,488.8 875.1,490.5 873.3,493 871,491.3" fill="#4460a2"/>
<polygon points="874.9,490.3 877.2,492 875.4,494.5 873.1,492.8" fill="#5a70a8"/>
<polygon points="877,491.9 879.3,493.5 877.4,496.1 875.2,494.4" fill="#6678aa"/>
<polygon points="879.1,493.4 881.4,495.1 879.5,497.7 877.3,496" fill="#4460a2"/>
<polygon points="883.4,496.5 885.6,498.1 883.7,500.8 881.4,499.1" fill="#6678aa"/>
<polygon points="885.5,498 887.8,499.7 885.8,502.4 883.5,500.7" fill="#4a7cb4"/>
<polygon points="887.6,499.5 889.9,501.2 887.8,503.9 885.6,502.2" fill="#66c2dc"/>
<polygon points="889.7,501 892,502.7 889.9,505.5 887.6,503.8" fill="#5aa0c8"/>
<polygon points="891.8,502.6 894.1,504.2 892,507.1 889.7,505.3" fill="#64d6c2"/>
<polygon points="893.9,504.1 896.2,505.8 894.1,508.6 891.8,506.9" fill="#66c2dc"/>
<polygon points="896,505.6 898.3,507.3 896.1,510.2 893.9,508.5" fill="#4a7cb4"/>
<polygon points="898.1,507.2 900.4,508.8 898.2,511.7 895.9,510" fill="#5a70a8"/>
<polygon points="900.2,508.7 902.5,510.4 900.3,513.3 898,511.6" fill="#6678aa"/>
<polygon points="902.3,510.2 904.6,511.9 902.4,514.9 900.1,513.2" fill="#5a70a8"/>
<polygon points="842,469.4 844.2,471.1 842.7,473 840.5,471.3" fill="#526aa4"/>
<polygon points="844,470.9 846.3,472.6 844.8,474.6 842.5,472.9" fill="#526aa4"/>
<polygon points="846.1,472.5 848.4,474.2 846.8,476.2 844.6,474.5" fill="#4460a2"/>
<polygon points="848.2,474.1 850.5,475.8 848.9,477.8 846.6,476.1" fill="#6678aa"/>
<polygon points="850.3,475.6 852.5,477.3 850.9,479.4 848.7,477.7" fill="#526aa4"/>
<polygon points="852.3,477.2 854.6,478.9 853,481 850.7,479.3" fill="#4a7cb4"/>
<polygon points="854.4,478.7 856.7,480.5 855,482.6 852.8,480.9" fill="#64d6c2"/>
<polygon points="856.5,480.3 858.8,482 857.1,484.2 854.8,482.5" fill="#12b41c"/>
<polygon points="858.6,481.9 860.8,483.6 859.1,485.8 856.9,484.1" fill="#64d6c2"/>
<polygon points="860.6,483.4 862.9,485.1 861.2,487.4 858.9,485.7" fill="#5aa0c8"/>
<polygon points="862.7,485 865,486.7 863.2,489 861,487.3" fill="#5aa0c8"/>
<polygon points="864.8,486.6 867.1,488.3 865.3,490.6 863,488.9" fill="#4460a2"/>
<polygon points="869,489.7 871.2,491.4 869.4,493.8 867.1,492.1" fill="#4460a2"/>
<polygon points="871,491.3 873.3,493 871.4,495.4 869.2,493.7" fill="#6678aa"/>
<polygon points="873.1,492.8 875.4,494.5 873.5,497 871.2,495.3" fill="#526aa4"/>
<polygon points="875.2,494.4 877.4,496.1 875.5,498.6 873.3,496.9" fill="#5a70a8"/>
<polygon points="879.3,497.5 881.6,499.2 879.6,501.8 877.4,500.1" fill="#526aa4"/>
<polygon points="881.4,499.1 883.7,500.8 881.7,503.4 879.4,501.7" fill="#5aa0c8"/>
<polygon points="883.5,500.7 885.8,502.4 883.7,505 881.5,503.3" fill="#14c81e"/>
<polygon points="885.6,502.2 887.8,503.9 885.8,506.6 883.5,504.9" fill="#14c81e"/>
<polygon points="887.6,503.8 889.9,505.5 887.8,508.2 885.6,506.5" fill="#14c81e"/>
<polygon points="889.7,505.3 892,507.1 889.9,509.8 887.6,508.1" fill="#14c81e"/>
<polygon points="891.8,506.9 894.1,508.6 891.9,511.4 889.7,509.7" fill="#12b41c"/>
<polygon points="893.9,508.5 896.1,510.2 894,513 891.7,511.3" fill="#4a7cb4"/>
<polygon points="895.9,510 898.2,511.7 896,514.6 893.8,512.9" fill="#526aa4"/>
<polygon points="898,511.6 900.3,513.3 898,516.2 895.8,514.5" fill="#5a70a8"/>
<polygon points="840.5,471.3 842.7,473 841.2,474.9 839,473.1" fill="#6678aa"/>
<polygon points="842.5,472.9 844.8,474.6 843.2,476.6 841,474.8" fill="#6678aa"/>
<polygon points="844.6,474.5 846.8,476.2 845.2,478.2 843,476.4" fill="#4460a2"/>
<polygon points="846.6,476.1 848.9,477.8 847.3,479.8 845.1,478.1" fill="#6678aa"/>
<polygon points="848.7,477.7 850.9,479.4 849.3,481.5 847.1,479.7" fill="#4460a2"/>
<polygon points="850.7,479.3 853,481 851.3,483.1 849.1,481.3" fill="#4a7cb4"/>
<polygon points="852.8,480.9 855,482.6 853.3,484.7 851.1,483" fill="#4a7cb4"/>
<polygon points="854.8,482.5 857.1,484.2 855.3,486.4 853.1,484.6" fill="#64d6c2"/>
<polygon points="856.9,484.1 859.1,485.8 857.4,488 855.2,486.2" fill="#5aa0c8"/>
<polygon points="858.9,485.7 861.2,487.4 859.4,489.7 857.2,487.9" fill="#66c2dc"/>
<polygon points="861,487.3 863.2,489 861.4,491.3 859.2,489.5" fill="#4a7cb4"/>
<polygon points="863,488.9 865.3,490.6 863.4,492.9 861.2,491.1" fill="#4460a2"/>
<polygon points="867.1,492.1 869.4,493.8 867.5,496.2 865.3,494.4" fill="#526aa4"/>
<polygon points="869.2,493.7 871.4,495.4 869.5,497.8 867.3,496.1" fill="#526aa4"/>
<polygon points="871.2,495.3 873.5,497 871.5,499.5 869.3,497.7" fill="#6678aa"/>
<polygon points="879.4,501.7 881.7,503.4 879.6,506 877.4,504.2" fill="#5a70a8"/>
<polygon points="881.5,503.3 883.7,505 881.6,507.7 879.4,505.9" fill="#14c81e"/>
<polygon points="883.5,504.9 885.8,506.6 883.6,509.3 881.4,507.5" fill="#14c81e"/>
<polygon points="885.6,506.5 887.8,508.2 885.7,510.9 883.5,509.1" fill="#14c81e"/>
<polygon points="887.6,508.1 889.9,509.8 887.7,512.6 885.5,510.8" fill="#66c2dc"/>
<polygon points="889.7,509.7 891.9,511.4 889.7,514.2 887.5,512.4" fill="#64d6c2"/>
<polygon points="891.7,511.3 894,513 891.7,515.8 889.5,514.1" fill="#4460a2"/>
<polygon points="893.8,512.9 896,514.6 893.7,517.5 891.5,515.7" fill="#526aa4"/>
<polygon points="841,474.8 843.2,476.6 841.6,478.5 839.5,476.7" fill="#6678aa"/>
<polygon points="843,476.4 845.2,478.2 843.6,480.2 841.5,478.3" fill="#6678aa"/>
<polygon points="845.1,478.1 847.3,479.8 845.6,481.8 843.4,480" fill="#4460a2"/>
<polygon points="847.1,479.7 849.3,481.5 847.6,483.5 845.4,481.7" fill="#526aa4"/>
<polygon points="849.1,481.3 851.3,483.1 849.6,485.2 847.4,483.4" fill="#4a7cb4"/>
<polygon points="851.1,483 853.3,484.7 851.6,486.9 849.4,485" fill="#66c2dc"/>
<polygon points="853.1,484.6 855.3,486.4 853.6,488.5 851.4,486.7" fill="#5aa0c8"/>
<polygon points="855.2,486.2 857.4,488 855.6,490.2 853.4,488.4" fill="#526aa4"/>
<polygon points="857.2,487.9 859.4,489.7 857.6,491.9 855.4,490" fill="#66c2dc"/>
<polygon points="859.2,489.5 861.4,491.3 859.6,493.5 857.4,491.7" fill="#4a7cb4"/>
<polygon points="861.2,491.1 863.4,492.9 861.6,495.2 859.4,493.4" fill="#526aa4"/>
<polygon points="865.3,494.4 867.5,496.2 865.5,498.6 863.4,496.7" fill="#6678aa"/>
<polygon points="867.3,496.1 869.5,497.8 867.5,500.2 865.4,498.4" fill="#526aa4"/>
<polygon points="869.3,497.7 871.5,499.5 869.5,501.9 867.3,500.1" fill="#526aa4"/>
<polygon points="879.4,505.9 881.6,507.7 879.5,510.2 877.3,508.4" fill="#6678aa"/>
<polygon points="881.4,507.5 883.6,509.3 881.5,511.9 879.3,510.1" fill="#4a7cb4"/>
<polygon points="883.5,509.1 885.7,510.9 883.5,513.6 881.3,511.8" fill="#66c2dc"/>
<polygon points="885.5,510.8 887.7,512.6 885.5,515.3 883.3,513.4" fill="#4a7cb4"/>
<polygon points="887.5,512.4 889.7,514.2 887.4,516.9 885.3,515.1" fill="#526aa4"/>
<polygon points="889.5,514.1 891.7,515.8 889.4,518.6 887.3,516.8" fill="#5a70a8"/>
<polygon points="891.5,515.7 893.7,517.5 891.4,520.3 889.3,518.5" fill="#6678aa"/>
<polygon points="839.5,476.7 841.6,478.5 840,480.4 837.9,478.5" fill="#6678aa"/>
<polygon points="841.5,478.3 843.6,480.2 842,482.1 839.8,480.2" fill="#526aa4"/>
<polygon points="843.4,480 845.6,481.8 843.9,483.8 841.8,481.9" fill="#526aa4"/>
<polygon points="845.4,481.7 847.6,483.5 845.9,485.5 843.8,483.6" fill="#4460a2"/>
<polygon points="847.4,483.4 849.6,485.2 847.9,487.2 845.7,485.4" fill="#5aa0c8"/>
<polygon points="849.4,485 851.6,486.9 849.8,488.9 847.7,487.1" fill="#4460a2"/>
<polygon points="851.4,486.7 853.6,488.5 851.8,490.6 849.6,488.8" fill="#5aa0c8"/>
<polygon points="853.4,488.4 855.6,490.2 853.7,492.3 851.6,490.5" fill="#64d6c2"/>
<polygon points="855.4,490 857.6,491.9 855.7,494 853.6,492.2" fill="#4a7cb4"/>
<polygon points="857.4,491.7 859.6,493.5 857.7,495.7 855.5,493.9" fill="#64d6c2"/>
<polygon points="859.4,493.4 861.6,495.2 859.6,497.5 857.5,495.6" fill="#5aa0c8"/>
<polygon points="863.4,496.7 865.5,498.6 863.6,500.9 861.4,499" fill="#4460a2"/>
<polygon points="865.4,498.4 867.5,500.2 865.5,502.6 863.4,500.7" fill="#6678aa"/>
<polygon points="879.3,510.1 881.5,511.9 879.3,514.5 877.1,512.6" fill="#5a70a8"/>
<polygon points="881.3,511.8 883.5,513.6 881.2,516.2 879.1,514.4" fill="#4460a2"/>
<polygon points="839.8,480.2 842,482.1 840.3,484 838.2,482.1" fill="#526aa4"/>
<polygon points="841.8,481.9 843.9,483.8 842.2,485.7 840.1,483.8" fill="#4460a2"/>
<polygon points="843.8,483.6 845.9,485.5 844.2,487.5 842,485.6" fill="#526aa4"/>
<polygon points="845.7,485.4 847.9,487.2 846.1,489.2 844,487.3" fill="#4a7cb4"/>
<polygon points="847.7,487.1 849.8,488.9 848,491 845.9,489.1" fill="#4460a2"/>
<polygon points="849.6,488.8 851.8,490.6 850,492.7 847.8,490.8" fill="#66c2dc"/>
<polygon points="851.6,490.5 853.7,492.3 851.9,494.4 849.8,492.5" fill="#14c81e"/>
<polygon points="853.6,492.2 855.7,494 853.8,496.2 851.7,494.3" fill="#14c81e"/>
<polygon points="855.5,493.9 857.7,495.7 855.7,497.9 853.6,496" fill="#40d66e"/>
<polygon points="857.5,495.6 859.6,497.5 857.7,499.7 855.6,497.8" fill="#5aa0c8"/>
<polygon points="842,485.6 844.2,487.5 842.4,489.4 840.3,487.5" fill="#5a70a8"/>
<polygon points="844,487.3 846.1,489.2 844.3,491.2 842.2,489.3" fill="#4460a2"/>
<polygon points="845.9,489.1 848,491 846.2,493 844.1,491" fill="#4a7cb4"/>
<polygon points="847.8,490.8 850,492.7 848.1,494.7 846,492.8" fill="#64d6c2"/>
<polygon points="849.8,492.5 851.9,494.4 850,496.5 847.9,494.6" fill="#14c81e"/>
<polygon points="851.7,494.3 853.8,496.2 851.9,498.3 849.8,496.4" fill="#12b41c"/>
<polygon points="853.6,496 855.7,497.9 853.8,500.1 851.7,498.1" fill="#14c81e"/>
<polygon points="855.6,497.8 857.7,499.7 855.7,501.8 853.6,499.9" fill="#66c2dc"/>
<polygon points="842.2,489.3 844.3,491.2 842.4,493.1 840.4,491.2" fill="#4460a2"/>
<polygon points="844.1,491 846.2,493 844.3,495 842.3,493" fill="#526aa4"/>
<polygon points="846,492.8 848.1,494.7 846.2,496.8 844.1,494.8" fill="#5aa0c8"/>
<polygon points="847.9,494.6 850,496.5 848,498.6 846,496.6" fill="#40d66e"/>
<polygon points="849.8,496.4 851.9,498.3 849.9,500.4 847.9,498.4" fill="#14c81e"/>
<polygon points="851.7,498.1 853.8,500.1 851.8,502.2 849.7,500.2" fill="#14c81e"/>
<polygon points="853.6,499.9 855.7,501.8 853.7,504 851.6,502" fill="#14c81e"/>
<polygon points="855.5,501.7 857.6,503.6 855.5,505.8 853.5,503.8" fill="#5aa0c8"/>
<polygon points="840.4,491.2 842.4,493.1 840.6,495.1 838.5,493" fill="#5a70a8"/>
<polygon points="842.3,493 844.3,495 842.4,496.9 840.4,494.9" fill="#5aa0c8"/>
<polygon points="844.1,494.8 846.2,496.8 844.2,498.7 842.2,496.7" fill="#4a7cb4"/>
<polygon points="846,496.6 848,498.6 846.1,500.6 844.1,498.6" fill="#64d6c2"/>
<polygon points="847.9,498.4 849.9,500.4 847.9,502.4 845.9,500.4" fill="#64d6c2"/>
<polygon points="849.7,500.2 851.8,502.2 849.7,504.2 847.7,502.2" fill="#14c81e"/>
<polygon points="851.6,502 853.7,504 851.6,506.1 849.6,504.1" fill="#40d66e"/>
<polygon points="853.5,503.8 855.5,505.8 853.4,507.9 851.4,505.9" fill="#4a7cb4"/>
<polygon points="838.5,493 840.6,495.1 838.6,496.9 836.7,494.9" fill="#4460a2"/>
<polygon points="840.4,494.9 842.4,496.9 840.5,498.8 838.5,496.8" fill="#5aa0c8"/>
<polygon points="842.2,496.7 844.2,498.7 842.3,500.7 840.3,498.6" fill="#526aa4"/>
<polygon points="844.1,498.6 846.1,500.6 844.1,502.5 842.1,500.5" fill="#5aa0c8"/>
<polygon points="845.9,500.4 847.9,502.4 845.9,504.4 843.9,502.4" fill="#66c2dc"/>
<polygon points="847.7,502.2 849.7,504.2 847.7,506.3 845.7,504.2" fill="#40d66e"/>
<polygon points="849.6,504.1 851.6,506.1 849.5,508.2 847.5,506.1" fill="#40d66e"/>
<polygon points="851.4,505.9 853.4,507.9 851.3,510 849.3,508" fill="#4a7cb4"/>
<polygon points="836.7,494.9 838.6,496.9 836.7,498.8 834.8,496.7" fill="#4460a2"/>
<polygon points="838.5,496.8 840.5,498.8 838.5,500.7 836.5,498.6" fill="#526aa4"/>
<polygon points="840.3,498.6 842.3,500.7 840.2,502.6 838.3,500.5" fill="#4a7cb4"/>
<polygon points="842.1,500.5 844.1,502.5 842,504.5 840.1,502.4" fill="#5aa0c8"/>
<polygon points="843.9,502.4 845.9,504.4 843.8,506.4 841.9,504.3" fill="#66c2dc"/>
<polygon points="845.7,504.2 847.7,506.3 845.6,508.3 843.6,506.2" fill="#4a7cb4"/>
<polygon points="847.5,506.1 849.5,508.2 847.3,510.2 845.4,508.1" fill="#64d6c2"/>
<polygon points="849.3,508 851.3,510 849.1,512.1 847.2,510" fill="#4460a2"/>
<polygon points="851.1,509.9 853.1,511.9 850.9,514 848.9,511.9" fill="#6678aa"/>
<polygon points="836.5,498.6 838.5,500.7 836.5,502.5 834.6,500.4" fill="#6678aa"/>
<polygon points="838.3,500.5 840.2,502.6 838.2,504.5 836.3,502.3" fill="#5a70a8"/>
<polygon points="840.1,502.4 842,504.5 839.9,506.4 838,504.3" fill="#526aa4"/>
<polygon points="841.9,504.3 843.8,506.4 841.7,508.3 839.8,506.2" fill="#5aa0c8"/>
<polygon points="843.6,506.2 845.6,508.3 843.4,510.2 841.5,508.1" fill="#4a7cb4"/>
<polygon points="845.4,508.1 847.3,510.2 845.2,512.2 843.3,510.1" fill="#4460a2"/>
<polygon points="847.2,510 849.1,512.1 846.9,514.1 845,512" fill="#4460a2"/>
<polygon points="848.9,511.9 850.9,514 848.6,516 846.7,513.9" fill="#526aa4"/>
<polygon points="839.8,506.2 841.7,508.3 839.5,510.2 837.7,508.1" fill="#4460a2"/>
<polygon points="841.5,508.1 843.4,510.2 841.2,512.2 839.4,510" fill="#4460a2"/>
<polygon points="843.3,510.1 845.2,512.2 843,514.1 841.1,512" fill="#6678aa"/>
<polygon points="845,512 846.9,514.1 844.7,516.1 842.8,514" fill="#526aa4"/>
<polygon points="846.7,513.9 848.6,516 846.4,518.1 844.5,515.9" fill="#526aa4"/>
<polygon points="839.4,510 841.2,512.2 839,514.1 837.2,511.9" fill="#4460a2"/>
<polygon points="841.1,512 843,514.1 840.7,516.1 838.9,513.9" fill="#4460a2"/>
<polygon points="842.8,514 844.7,516.1 842.4,518 840.6,515.9" fill="#5a70a8"/>
<polygon points="844.5,515.9 846.4,518.1 844.1,520 842.2,517.9" fill="#6678aa"/>
<polygon points="838.9,513.9 840.7,516.1 838.4,517.9 836.6,515.7" fill="#5a70a8"/>
<polygon points="840.6,515.9 842.4,518 840.1,520 838.3,517.7" fill="#5a70a8"/>
<polygon points="842.2,517.9 844.1,520 841.7,522 839.9,519.8" fill="#5a70a8"/>
<polygon points="838.3,517.7 840.1,520 837.7,521.8 836,519.6" fill="#6678aa"/>
<polygon points="839.9,519.8 841.7,522 839.3,523.9 837.6,521.6" fill="#6678aa"/>
<polygon points="836,519.6 837.7,521.8 835.3,523.6 833.6,521.4" fill="#6678aa"/>
<polygon points="837.6,521.6 839.3,523.9 836.9,525.7 835.2,523.5" fill="#6678aa"/>
<polygon points="842.4,527.8 844.1,530 841.6,531.9 839.9,529.7" fill="#5a70a8"/>
<polygon points="844,529.8 845.7,532.1 843.2,534 841.5,531.8" fill="#4460a2"/>
<polygon points="839.9,529.7 841.6,531.9 839,533.8 837.4,531.5" fill="#526aa4"/>
<polygon points="841.5,531.8 843.2,534 840.6,535.9 838.9,533.6" fill="#5a70a8"/>
<polygon points="817.7,513.6 819.3,515.9 817,517.4 815.5,515.1" fill="#526aa4"/>
<polygon points="819.2,515.7 820.8,518.1 818.4,519.6 816.9,517.2" fill="#6678aa"/>
<polygon points="820.6,517.9 822.2,520.2 819.9,521.8 818.3,519.4" fill="#6678aa"/>
<polygon points="815.5,515.1 817,517.4 814.7,518.9 813.2,516.5" fill="#6678aa"/>
<polygon points="816.9,517.2 818.4,519.6 816.1,521.1 814.6,518.7" fill="#4460a2"/>
<polygon points="818.3,519.4 819.9,521.8 817.5,523.3 816,520.9" fill="#6678aa"/>
<polygon points="819.7,521.6 821.3,524 818.9,525.5 817.4,523.1" fill="#526aa4"/>
<polygon points="821.1,523.8 822.7,526.2 820.2,527.7 818.7,525.3" fill="#526aa4"/>
<polygon points="822.6,526 824.1,528.3 821.6,529.9 820.1,527.5" fill="#6678aa"/>
<polygon points="813.2,516.5 814.7,518.9 812.4,520.3 810.9,517.9" fill="#4a7cb4"/>
<polygon points="814.6,518.7 816.1,521.1 813.7,522.5 812.3,520.1" fill="#5aa0c8"/>
<polygon points="816,520.9 817.5,523.3 815.1,524.8 813.6,522.3" fill="#40d66e"/>
<polygon points="817.4,523.1 818.9,525.5 816.4,527 815,524.6" fill="#4a7cb4"/>
<polygon points="818.7,525.3 820.2,527.7 817.8,529.2 816.3,526.8" fill="#526aa4"/>
<polygon points="820.1,527.5 821.6,529.9 819.1,531.5 817.6,529" fill="#5a70a8"/>
<polygon points="821.5,529.7 823,532.1 820.4,533.7 819,531.3" fill="#526aa4"/>
<polygon points="822.9,531.9 824.4,534.3 821.8,535.9 820.3,533.5" fill="#5a70a8"/>
<polygon points="808.3,513.4 809.7,515.9 807.5,517.2 806,514.7" fill="#526aa4"/>
<polygon points="809.6,515.7 811.1,518.1 808.8,519.5 807.3,517" fill="#4a7cb4"/>
<polygon points="810.9,517.9 812.4,520.3 810.1,521.7 808.6,519.2" fill="#5aa0c8"/>
<polygon points="812.3,520.1 813.7,522.5 811.4,524 809.9,521.5" fill="#64d6c2"/>
<polygon points="813.6,522.3 815.1,524.8 812.7,526.2 811.2,523.7" fill="#12b41c"/>
<polygon points="815,524.6 816.4,527 814,528.5 812.5,526" fill="#14c81e"/>
<polygon points="816.3,526.8 817.8,529.2 815.3,530.7 813.8,528.3" fill="#5aa0c8"/>
<polygon points="817.6,529 819.1,531.5 816.6,533 815.1,530.5" fill="#526aa4"/>
<polygon points="819,531.3 820.4,533.7 817.9,535.2 816.4,532.8" fill="#6678aa"/>
<polygon points="820.3,533.5 821.8,535.9 819.2,537.5 817.7,535" fill="#5a70a8"/>
<polygon points="806,514.7 807.5,517.2 805.2,518.5 803.8,516" fill="#4460a2"/>
<polygon points="807.3,517 808.8,519.5 806.4,520.8 805.1,518.3" fill="#66c2dc"/>
<polygon points="808.6,519.2 810.1,521.7 807.7,523 806.3,520.6" fill="#5aa0c8"/>
<polygon points="809.9,521.5 811.4,524 808.9,525.3 807.6,522.8" fill="#66c2dc"/>
<polygon points="811.2,523.7 812.7,526.2 810.2,527.6 808.8,525.1" fill="#14c81e"/>
<polygon points="812.5,526 814,528.5 811.5,529.9 810.1,527.4" fill="#40d66e"/>
<polygon points="813.8,528.3 815.3,530.7 812.7,532.1 811.4,529.7" fill="#526aa4"/>
<polygon points="815.1,530.5 816.6,533 814,534.4 812.6,531.9" fill="#6678aa"/>
<polygon points="816.4,532.8 817.9,535.2 815.3,536.7 813.9,534.2" fill="#526aa4"/>
<polygon points="817.7,535 819.2,537.5 816.5,539 815.1,536.5" fill="#526aa4"/>
<polygon points="803.8,516 805.2,518.5 802.9,519.8 801.5,517.2" fill="#4460a2"/>
<polygon points="805.1,518.3 806.4,520.8 804.1,522.1 802.7,519.5" fill="#4460a2"/>
<polygon points="806.3,520.6 807.7,523 805.3,524.3 804,521.8" fill="#66c2dc"/>
<polygon points="807.6,522.8 808.9,525.3 806.5,526.6 805.2,524.1" fill="#64d6c2"/>
<polygon points="808.8,525.1 810.2,527.6 807.7,528.9 806.4,526.4" fill="#40d66e"/>
<polygon points="810.1,527.4 811.5,529.9 809,531.2 807.6,528.7" fill="#66c2dc"/>
<polygon points="811.4,529.7 812.7,532.1 810.2,533.5 808.8,531" fill="#526aa4"/>
<polygon points="812.6,531.9 814,534.4 811.4,535.8 810.1,533.3" fill="#6678aa"/>
<polygon points="813.9,534.2 815.3,536.7 812.6,538.1 811.3,535.6" fill="#6678aa"/>
<polygon points="815.1,536.5 816.5,539 813.8,540.4 812.5,537.9" fill="#4460a2"/>
<polygon points="816.4,538.8 817.8,541.2 815.1,542.7 813.7,540.2" fill="#526aa4"/>
<polygon points="801.5,517.2 802.9,519.8 800.5,521 799.2,518.4" fill="#6678aa"/>
<polygon points="802.7,519.5 804.1,522.1 801.7,523.3 800.4,520.8" fill="#526aa4"/>
<polygon points="804,521.8 805.3,524.3 802.9,525.6 801.6,523.1" fill="#4460a2"/>
<polygon points="805.2,524.1 806.5,526.6 804.1,527.9 802.8,525.4" fill="#40d66e"/>
<polygon points="806.4,526.4 807.7,528.9 805.2,530.2 803.9,527.7" fill="#12b41c"/>
<polygon points="807.6,528.7 809,531.2 806.4,532.6 805.1,530" fill="#66c2dc"/>
<polygon points="808.8,531 810.2,533.5 807.6,534.9 806.3,532.3" fill="#526aa4"/>
<polygon points="810.1,533.3 811.4,535.8 808.8,537.2 807.5,534.7" fill="#526aa4"/>
<polygon points="811.3,535.6 812.6,538.1 810,539.5 808.7,537" fill="#526aa4"/>
<polygon points="812.5,537.9 813.8,540.4 811.1,541.8 809.9,539.3" fill="#526aa4"/>
<polygon points="813.7,540.2 815.1,542.7 812.3,544.1 811,541.6" fill="#5a70a8"/>
<polygon points="814.9,542.5 816.3,545 813.5,546.5 812.2,543.9" fill="#6678aa"/>
<polygon points="802.8,525.4 804.1,527.9 801.6,529.2 800.3,526.6" fill="#5a70a8"/>
<polygon points="803.9,527.7 805.2,530.2 802.7,531.5 801.5,528.9" fill="#4460a2"/>
<polygon points="805.1,530 806.4,532.6 803.9,533.8 802.6,531.3" fill="#6678aa"/>
<polygon points="806.3,532.3 807.6,534.9 805,536.2 803.8,533.6" fill="#6678aa"/>
<polygon points="807.5,534.7 808.8,537.2 806.1,538.5 804.9,536" fill="#5a70a8"/>
<polygon points="808.7,537 810,539.5 807.3,540.8 806,538.3" fill="#526aa4"/>
<polygon points="809.9,539.3 811.1,541.8 808.4,543.2 807.2,540.6" fill="#526aa4"/>
<polygon points="811,541.6 812.3,544.1 809.6,545.5 808.3,543" fill="#5a70a8"/>
<polygon points="812.2,543.9 813.5,546.5 810.7,547.9 809.5,545.3" fill="#6678aa"/>
<polygon points="802.6,531.3 803.9,533.8 801.3,535.1 800.1,532.5" fill="#526aa4"/>
<polygon points="803.8,533.6 805,536.2 802.4,537.4 801.2,534.8" fill="#526aa4"/>
<polygon points="804.9,536 806.1,538.5 803.5,539.8 802.3,537.2" fill="#4460a2"/>
<polygon points="806,538.3 807.3,540.8 804.6,542.1 803.4,539.6" fill="#4460a2"/>
<polygon points="807.2,540.6 808.4,543.2 805.7,544.5 804.5,541.9" fill="#4460a2"/>
<polygon points="808.3,543 809.6,545.5 806.8,546.8 805.6,544.3" fill="#526aa4"/>
<polygon points="809.5,545.3 810.7,547.9 807.9,549.2 806.7,546.6" fill="#526aa4"/>
<polygon points="810.6,547.6 811.8,550.2 809,551.6 807.8,549" fill="#6678aa"/>
<polygon points="800.1,532.5 801.3,535.1 798.7,536.2 797.5,533.7" fill="#5a70a8"/>
<polygon points="801.2,534.8 802.4,537.4 799.7,538.6 798.6,536" fill="#4460a2"/>
<polygon points="802.3,537.2 803.5,539.8 800.8,541 799.6,538.4" fill="#4460a2"/>
<polygon points="803.4,539.6 804.6,542.1 801.8,543.4 800.7,540.8" fill="#6678aa"/>
<polygon points="804.5,541.9 805.7,544.5 802.9,545.7 801.7,543.2" fill="#526aa4"/>
<polygon points="805.6,544.3 806.8,546.8 804,548.1 802.8,545.5" fill="#4460a2"/>
<polygon points="806.7,546.6 807.9,549.2 805,550.5 803.9,547.9" fill="#526aa4"/>
<polygon points="808.9,551.3 810.1,553.9 807.1,555.3 806,552.7" fill="#6678aa"/>
<polygon points="810,553.7 811.2,556.3 808.2,557.6 807,555" fill="#526aa4"/>
<polygon points="813.3,560.8 814.5,563.3 811.4,564.8 810.2,562.2" fill="#5a70a8"/>
<polygon points="814.4,563.1 815.6,565.7 812.4,567.1 811.3,564.5" fill="#6678aa"/>
<polygon points="797.5,533.7 798.7,536.2 796,537.4 794.9,534.8" fill="#6678aa"/>
<polygon points="798.6,536 799.7,538.6 797.1,539.8 796,537.2" fill="#526aa4"/>
<polygon points="799.6,538.4 800.8,541 798.1,542.2 797,539.6" fill="#4460a2"/>
<polygon points="800.7,540.8 801.8,543.4 799.1,544.6 798,542" fill="#5a70a8"/>
<polygon points="803.9,547.9 805,550.5 802.1,551.7 801,549.1" fill="#6678aa"/>
<polygon points="807,555 808.2,557.6 805.2,558.9 804.1,556.3" fill="#6678aa"/>
<polygon points="811.3,564.5 812.4,567.1 809.3,568.5 808.1,565.9" fill="#6678aa"/>
<polygon points="812.3,566.9 813.5,569.5 810.3,570.9 809.2,568.3" fill="#526aa4"/>
<polygon points="813.4,569.3 814.5,571.9 811.3,573.3 810.2,570.7" fill="#526aa4"/>
<polygon points="797,539.6 798.1,542.2 795.4,543.3 794.3,540.7" fill="#6678aa"/>
<polygon points="808.1,565.9 809.3,568.5 806.1,569.8 805,567.2" fill="#526aa4"/>
<polygon points="792,582.8 792.8,585.5 789.4,586.6 788.6,583.8" fill="#6678aa"/>
<polygon points="792.8,585.3 793.6,588 790.1,589.1 789.3,586.3" fill="#5a70a8"/>
<polygon points="793.5,587.8 794.4,590.5 790.8,591.6 790,588.8" fill="#4460a2"/>
</g>
<line x1="80.8" y1="1035.5" x2="98.6" y2="1051.5" stroke="#808080" stroke-width="2.7"/>
<g stroke="#808080" stroke-opacity="0.36" stroke-width="0.69" stroke-dasharray="2.57 1.11" fill="none">
<line x1="159.5" y1="45.5" x2="159.5" y2="1046.5"/>
<line x1="344.5" y1="45.5" x2="344.5" y2="1046.5"/>
<line x1="529.5" y1="45.5" x2="529.5" y2="1046.5"/>
<line x1="714.5" y1="45.5" x2="714.5" y2="1046.5"/>
<line x1="899.5" y1="45.5" x2="899.5" y2="1046.5"/>
<line x1="85.5" y1="161.5" x2="1010.5" y2="161.5"/>
<line x1="85.5" y1="306.5" x2="1010.5" y2="306.5"/>
<line x1="85.5" y1="450.5" x2="1010.5" y2="450.5"/>
<line x1="85.5" y1="593.5" x2="1010.5" y2="593.5"/>
<line x1="85.5" y1="735.5" x2="1010.5" y2="735.5"/>
<line x1="85.5" y1="877.5" x2="1010.5" y2="877.5"/>
<line x1="85.5" y1="1018.5" x2="1010.5" y2="1018.5"/>
</g>
<g stroke="#808080" stroke-width="1.4" fill="none" stroke-linejoin="round" stroke-linecap="butt">
<polyline points="471.3,455.2 477.3,453.2 480.6,450.6 484.6,452.6 490.6,451.2 494.6,449.9 498,443.9 500,437.9 498.6,433.9 500.6,432.6 504,434.6 508.6,433.2 515.3,428.9 518.6,431.2 522.6,436.6 523.9,441.2 530.6,443.9 535.9,445.9 539.9,448.8 545.3,447.2 549.3,447.2 551.3,449.9 550.6,453.2 545.3,455.2 541.3,458.6 539.9,463.2 540.6,468.6 544,474 545.3,480 545.3,486 543.3,492.6 538.6,497.9 536,502.6 534.6,511.3 530.6,517.9 526,521.3 525.3,528.6 524,533.2"/>
<polyline points="545.3,480 548,476.6 552.6,474.6 556,468 559.3,461.3 564.6,457.3 567.3,460"/>
<polyline points="567.3,460 566.6,470 564.6,480 564.6,486 567.3,492.6 569.9,497.9 575.3,502.6 578.6,506.6 584.6,509.9 589.9,514.6 594.6,519.3 598.3,523.9 601.2,520.6 604.6,515.9 610.6,513.3 617.2,512.3"/>
<polyline points="567.3,460 570.6,458.6 574.6,463.3 578.6,465.3 582.6,464.6 586.6,462.6 587.3,468.6 589.9,475.3 593.9,475.3"/>
<polyline points="451.3,519.9 454.6,520.6 457.3,523.9 461.9,524.6 467.3,523.3 471.9,515.9 476.2,510.6 479.9,513.9 483.3,519.9 486.6,524.6 490.6,522.6 491.9,515.9 493.9,514.6 495.3,521.3 497.9,527.9 499.3,530.6 503.2,529.3 505.9,523.3 508.6,523.3 514.7,527.9 520,530.6 524,533.2 520,535.9 518.7,540.6 520,547.2 518,553.2 521.3,554.6 528,551.9 536,549.2 538.6,549.9 545.3,548.6 551.3,546.6 556,549.2 558.6,549.9 560.6,547.9 563.9,553.9 568.6,557.9 572.6,556.6 577.3,551.9 583.9,549.9 588.6,549.2 593.3,551.9 598.6,550.6 599.3,556.6 602.6,561.9 607.9,565.9 613.2,567.2 617.2,567.2 618.6,573.9 618.6,574 622.6,575.3 628.6,578.7 631.2,586 631.9,592.6 629.9,596.6"/>
<polyline points="538.6,549.9 538,554.6 540,557.9 535.3,561.9 533.3,565.9 532.6,569.9 526.6,571.9 525.3,575.3 526.6,580.7 523.3,584 522,589.3 524.6,595.3 528,602 526.6,610 528.6,616.6 530,623.3"/>
<polyline points="489.3,616 492.6,614.6 495.3,616 499.9,619.3 503.9,621.3 510.6,615.3 517.3,611.3 523.9,609.7 526.6,610"/>
<polyline points="530,623.3 534,624.4 538,623.7 545.3,626.6 552,622.6 556,624 560.6,623.6 564.6,627.3 570.6,625.7 575.3,626.6 578.6,628.9 585.3,630 591.9,629.3 598.6,630 603.2,629.3 607.9,631.3 617.2,631 625.9,631.5 631.2,639.3 634.6,647.3 638.6,656.6 642.5,660.6 644.5,665.3 650.5,665.3 653.2,668.6 656.5,673.2 663.9,673.2 666.6,675.2 669.3,679.2"/>
<polyline points="564.6,627.3 561.9,631.9 563.3,639.3 565.5,643.3 565.3,650.6 560,649.9 559.3,646.6 554.6,645.9 550,651.3 546,661.9 540,668.6 534.6,672.6 529.3,674.6 528.6,677.9 532,683.2 531.3,689.2"/>
<polyline points="591.9,629.3 595.9,623.3 596.6,612.6 601.9,610 605.2,604.6 610.6,600 615.9,595 624.6,595 629.9,596.6"/>
<polyline points="629.9,596.6 637.2,599.3 643.9,602.6 648.5,607.3 653.2,604 660,602 658.6,602.3 663.9,603.3 669.3,602.3 669.9,596 672.6,593 677.3,593.3 682.6,598.6 687.9,603.9 691.3,603.9 694.6,599.3 697.9,597.6 703.9,599.7 713.2,602.6"/>
<polyline points="482.6,695.2 486.6,697.9 487.9,707.2 491.9,707 492.6,703.2 499.9,699.9 505.3,697.9 511.3,696.6 516,692.6 520,695.2 523.3,695.9 531.3,689.2 540,686.6 545.3,684.6 550.6,683.2 556,683.2 558,688.6 562.6,690.6 564.6,695.2 567.9,695.9 569.3,698.6 575.9,699.2 581.3,701.2 587.3,705.9 590.6,709.9 591.3,713.9 588,719.3 588.7,723.3 593.3,719.3 602.6,716 612,712.6"/>
<polyline points="644.5,665.3 638.6,669.3 633.2,673.9 633.2,678.6 638.6,681.2 639.9,683.9 635.9,686.6 629.9,685.9 625.9,689.2 623.2,693.2 615.2,695.2 613.9,699.9 611.9,704.6 612.6,713.9 612,712.6 614.9,720 616.6,728"/>
<polyline points="645.2,537.9 644.5,539.5 631.2,538.6 629.2,543.2 626.6,548.6 629.9,553.2 626.6,561.2 622.6,567.2 618.6,573.9"/>
<polyline points="644.5,539.5 644.5,543.9 647.9,544.3"/>
</g>
<g stroke="#000" stroke-width="3.2" fill="none" stroke-linejoin="round" stroke-linecap="round">
<polyline points="577.5,44.7 581.6,49.9 582.7,55.2 588.6,61.6 590.9,67.4 593.2,70.9 592.6,73.8 595,76.1 593.2,77.9 590.5,77.5 593.8,82 597.3,86 595,88.7 598.5,86.6 600.8,84.1 609,84.5 616,87.2 624.7,86.9 628.2,86.6 629,90.1 626.4,96 620.6,100.6 621.8,104.1 618.3,108.8 612.5,108.8 610.1,114 604.9,118.1 603.1,121.6 597.3,124.5 593.6,128 595,132.1 594.7,136.8 600.2,139.1 602.5,141.4 598.5,145.5 600.2,149 606,150.2 609.1,156.4 612.4,163.8 615,162.2 620.8,159.6 623.7,161.7 626,161.1 628.4,158.7 633,159.3 636,161.7 640,161.7 643.5,160.3 648.2,164 654.6,167.3 659.3,168.4 655.8,169.2 655.5,173.3 654.6,176.2 656,179.1 655.2,182.1 657.5,184.4 663.3,186.7 666.8,187.3 668.6,190.8 669.2,196.6 668,201.3 665.7,206 664.9,208.3 666,212.9 665.1,216.4 661.6,221.1 660.4,224.6 656,229.9 661.6,234.5 664.5,239.8 666.1,242.9 671.9,246.4 676.6,250.5 678.3,254.6 680.6,256.9 680.1,262.7 677.2,263.9 670.7,264.7 667.8,268.6 662.6,269.1 661.4,269.4 663.5,273.8 661.2,269.1 656.8,267.4 653.3,265.9 651.5,262.7 649.8,262.4 646.8,264.5 643.3,264.7 642.2,266.2 643.3,269.7 641.6,271.5 639.3,271.7 639,276.1 636.9,279.6 634.6,281 635.5,283.7 634.4,286 637.5,289.5 635.8,291.9 632.3,296.2 627.6,296.9 624.7,295.4 621.8,297.4 617.1,298.3 610.1,301.2 606,303.9 604.9,308.2 602.5,312.9 597.3,313.4 593.8,314.6 592.9,316.9 593.8,319.9 590.5,321 590.5,323.3 594.4,325.7 596.7,329.8 598.5,332.1 597.5,336.8 598.5,340.8 600.2,344.9 598,346.7 593.3,346.3 590,346.7 588.6,350 586.6,350 584,347.3 582.6,347.7 581.6,350.6 580,352.6 581.3,355.3 583.3,356.6 583,359.3 583.6,361.2"/>
<polyline points="575,361 573.3,364.6 571.8,369.8 577.3,372.3 582.6,372.3 586,369.8 587.4,367.8 586.3,363.2 583.6,361.2 580,359.6 576,360 575,361"/>
<polyline points="577,361 580.6,364.6 583.3,363.3"/>
<polyline points="580,372.6 580,376.6 578,379 576.3,380.6 576.6,383.3 579.3,385 577.3,387.3 579.3,390 576,392.3 578.3,395.6 574,397.3 574.3,403.9 577.2,407.3 572.6,409.9 573.2,413.3 570.6,415.3 574.6,418.6 578.6,425.9 577.9,431.2 582.6,435.9 577.2,439.2 579.9,441.9 584.6,444.6 581.9,449.9 583.2,453.2 586.6,456.6 592.6,458.6 591.3,464.6 593.3,470.6 595.3,476 596.6,472.6 598,468 600,467.7 600.6,473.3 602.6,478.6 605.3,475.3 609.3,478.6 612.6,478.6 612,482.6 613.3,486.6 612.6,491.9 609.3,493.3 614,495.9 616,499.9 613.3,501.3 615.3,506.6 618.6,509.3 622.6,513.3 626.6,517.9 631.3,519.9 633.9,519.3 637.3,522.6 639.3,526.6 643.9,523.9 645.9,527.9 646.6,533.2 647.9,537.2 647.9,541.2 650.6,543.2 653.9,541.9 655.3,537.2 658.6,535.2 663.9,535.2 670.6,544.6 670.6,544 674.6,549.3 678.6,553.3 685.9,555.3 688.6,558 691.9,556.7 697.9,557.3 699.3,554 703.2,551.3 706.6,553.3 709.9,556.7 715.9,558 719.2,562 720.6,560 721.9,556.7 724.6,557.3 725.9,560.6 722.6,564.6 717.9,567.3 715.9,570.6 720.6,574 717.9,576.6 720.6,580 721.2,586 717.2,588.6 714.3,590.6 714.6,602.6 712.6,607.3 718.6,605.3 720.6,607.9 715.9,609.3 717.2,611.9 714.6,613.3 710.6,617.9 706.6,622.6 699.3,625.3 693.9,633.9 687.9,638.6 686.3,642.3 689.3,643.9 691.9,645.9 686.6,659.9 684.6,667.2 679.9,671.2 675.9,677.2 669.9,679.2 667.9,684 671.3,689.3 668.6,691.3 663.9,690.7 661.9,693.3 666.6,696.7 670.6,700 671.3,704 667.9,708.6 663.9,712.6 661.3,716.6 662.6,722.6 664.6,730.6 665.5,737.3 665.3,751.9 664.6,758.6"/>
<polyline points="575,361 575.3,358.6 574.3,355.6 571.3,354 566.6,351 558.7,350 558,358.6 554.7,360.3 546.7,358 540,354.6 539.7,350 538.3,345.7 532.6,347.3 523.9,349.3 517.3,351.3 516,356.6 512.6,372 504,377.3 492.6,386 492,390.6 490,396.6 488,405.3 482,407.9 477.1,413.9 478,421.9 476,429.9 473.3,435.2 466,440.6 465.3,447.2 467.3,452 471.3,456.7 471.7,461.3 469.3,463.7 461.3,465.3 460.6,470 458.6,472 454,470.4 448,472.6 446.6,482.6 444,489.3 442,496 440,499.3 436.6,501.3 434,505.9 436.6,509.3 444,512.6 450,516.6 450.6,519.9 448,521.9 446.6,524.2 439.3,524.2 439.3,530.6 436.6,532.6 438,535.9 435.3,541.9 437,547.9 435.7,553.2 438,557.2 439.3,565.9 448.6,565.9 453.3,571.2 458.6,582.7 464.6,594 466,600 466.6,606 472.6,606.2 477.3,605.3 481.3,606.6 485.3,610.6 489.3,616 483.9,620 481.5,626 482.6,631.3 485.9,635.3 491.9,637.9 496.6,639.9 495.3,647.3 495.3,655.3 485.9,655.9 485.3,662.6 481.9,669.3 481.3,675.2 477.3,677.2 474.4,680.6 474.6,683.9 479.3,685.2 482.6,686.6 482.6,691.2 482.6,692 478,696.7 472,702 468,705.3 464.6,705.6 461.3,708.2 460,709.6"/>
<polyline points="460,709.6 461.3,713.3 466,712 468.6,711.7 470,715.3 471.3,718.6 468.2,719.7 468.2,723.3 472,728 478.6,734 484,735.7 490,736.6 496,734.4 501.9,735.7 508.6,735.3 513.9,739.3 517.9,740.6 518.9,752.6 521.3,755.9 523.9,758.6 521.3,760.6 522.6,763.3 529.3,760.6 538.6,761.5 539.9,763.7 544.6,765 547.2,759.3 549.9,754.6 555.9,754.9 561.9,759.9 566.6,761.5 566.6,753.3 568.6,751.3 575.2,749.3 577.2,741.3 582.5,742.3 587.2,739.3 588,733.3 593.3,730.6 600,731.3 608,731.3 610.6,729.3 616.6,730 619.3,728 625.3,730.4 630.6,732.6 633.3,738.6 637.3,743.3 643.9,745.9 649.3,750.6 652.6,753.9 657.3,753.3 661.3,756.6 664.6,758.6 665.3,753.9 671.9,755.3 678.6,753.9 682.6,749.3 686.6,747.9 690.6,751.9 697.2,755.9 700.6,753.9 704.6,757.9 707.9,761.3 714.6,763.9 719.2,768.6 725.2,771.3 731.3,775.3 735.3,780.6 731.3,782.6 728.2,786 728.6,790 732.6,792.6 736,796 742,797.3 746,800.6 746.6,806 744.6,809.3 748.6,808 752,810.6 750,815.3 747.3,819.3 745.3,817.9 742.6,815.3 738.6,815.9 737.6,819.9 739.3,823.9 742.6,826.6 744.6,829.3 748,828.6 750,831.3 747.3,835.3 748.6,837.9 753.3,841.9 756.6,846.6 760,847.3 765.3,851.2 769.3,855.2 771.9,858.6 776.6,859.9 776.6,865.9 773.3,871.2 775.3,874.6 778.6,872.6 783.3,876.6 784.2,879.9 782,881.3 783.3,885.3 783.7,892 786.6,896 791.3,895.3 795.3,893.3 797.3,896 799.3,901.3 795.3,907.3 792,911.9 794,917.3 798.6,922.6 802.6,925.9 806.6,923.9 811.3,924.6 818.6,922.6 823.9,925.9 830.6,929.3 837.9,933.3 842.6,929.9 841.5,924.6 842.3,919.9 847.9,918.6 848.2,915.3 845.3,909.3 843.9,903.3 838.6,898 842.6,895.3 847.3,892.4 851.9,896 858.6,900 862.6,897.3 867.2,896 869.2,892.6 876.6,892.6 879.9,898 883.9,903.3 889.2,899.6 894.6,903.3 899.9,908 903.9,911.9 905.9,909.3 911.9,910.2 911.3,916.6 909.6,921.3 911.3,925.3 910.4,929.3 913.3,934.6 916.2,941.3 915.3,948.6 916.6,952.6 920,954.9 924,953.3 924.6,949.3 927.3,946.6 932.6,944.6 932.6,940.6 929.6,937.3 929.6,932.6 932.6,932.6 936.6,929.5 940.6,930.6 941.3,933.3 937.6,935.9 937.6,939.7 942.6,938.6 945.9,937.5 947.9,943.3 951.9,946.6 957.9,949.9 959.9,945.9 967.3,943.9 971.3,948.6 972.6,952.6 974.6,948.6 981.2,947.3 989.2,944.6 995.9,947.9 1003.2,947.9 1003.2,951.9 1007.9,952.6 1011.2,950.3"/>
<polyline points="84,474.4 101.3,478.6 106,487.3 114.6,494 116.6,500 116,507.3 112,515.9 108,523.9 104.4,527.9 105.3,536.6 107,540.6 110.2,542.2 112.4,553.2 108,561.9 105.3,567.2 107.6,570.6 112.4,568.3 116.6,571.2 120.6,570.6 124.6,572.3 130.6,571 133.9,571.9 135.3,569.2 138.2,569.2 139.3,565.9 142.6,563.9 155.9,563.9 159.3,567.9 164.6,575.9 176.6,581.2 184.8,586.2 191.9,584.3 194.9,587.3 205.6,605.9 204.6,611.3 212,615.9 214.9,611.3 218.6,612.6 220.6,616.6 220.6,625.3 229.3,624.2 232.6,625.3 235.9,624.2 238.6,627.3 244.2,626.6 250.6,628.6 258.3,623.7 262.8,627.9 264.6,631.3 277.2,641.2 282.6,647.9 277.2,651.2 274.6,655.9 272.2,661.2 273.9,667.2 275.6,671.6 284.6,668.2 286.6,664.6 287.2,660.6 294.6,663.9 303.9,668.2 311.3,675.3 318,682.4 319.3,688 322,695.3 327.3,697.6 324.6,704.6 322.4,705.9 326.6,710.6 331.7,715.3 331.3,719.9 327.3,723.3 324.2,725.3 330,729.9 331.3,735.3 333.3,737 338.6,731.7 344.6,731.7 353.3,729 358.6,726.3 363.9,719.7 369.9,719.9 377.9,722.6 379.9,725.3 384.6,731.9 386.6,728.6 389,723.3 387.7,717.9 393.3,712.6 393.9,709.9 397.9,706.6 403.2,705.3 406.6,707.7 413.2,708.6 418.6,712.6 424.6,712.2 429,709.9 433.9,713 439.6,711.3 439.6,701.9 444.9,699.3 452.5,704.6 460,706.6 452.7,705.3 458.7,707.3 460,709.6"/>
<polyline points="83.3,364.9 93.7,353.3 96.6,360.6 113.3,361.7 116.6,368.6 120.9,369.7 120.6,371.3 115.3,374.6 112,378 110.6,381.3 112,395.3 110.6,397.9 108,396.3 105.7,392.6 103.3,392.3 100.4,395.9 102,401.3 100.4,403 100,409.9 94.6,411.5 92.4,413.9 93.3,416.6 95.3,417.9 95.6,421.9 99.3,423.9 100,426.6 92.9,436.6 92,444.6 91,453.2 89.3,455.9 84,461.2"/>
</g>
<circle cx="732" cy="386.5" r="4.9" fill="#f00000" stroke="#000" stroke-width="0.8"/>
</g>
<rect x="97.5" y="57.5" width="218.3" height="49.7" fill="#fff" stroke="#000" stroke-width="1.1"/>
<text x="102.53" y="76.6" font-size="17.66" textLength="68.51" lengthAdjust="spacingAndGlyphs">Product:</text><text x="176.95" y="76.6" font-size="17.66" textLength="34.04" lengthAdjust="spacingAndGlyphs">0.5°</text><text x="216.80" y="76.6" font-size="17.66" textLength="92.54" lengthAdjust="spacingAndGlyphs">Reflectivity</text>
<text x="102.49" y="96.5" font-size="17.66" textLength="45.10" lengthAdjust="spacingAndGlyphs">Data:</text><text x="153.31" y="96.5" font-size="17.66" textLength="41.80" lengthAdjust="spacingAndGlyphs">DWD</text>
<rect x="85.5" y="45.5" width="925.0" height="1001.0" fill="none" stroke="#000" stroke-width="1.1"/>
<text x="353.94" y="37.5" font-size="36.79" textLength="196.60" lengthAdjust="spacingAndGlyphs">17.12.2025</text><text x="563.77" y="37.5" font-size="36.79" textLength="98.59" lengthAdjust="spacingAndGlyphs">18:48</text><text x="674.53" y="37.5" font-size="36.79" textLength="67.73" lengthAdjust="spacingAndGlyphs">UTC</text>
<text x="20.53" y="166.9" font-size="17.66" textLength="57.26" lengthAdjust="spacingAndGlyphs">50.5°N</text>
<text x="9.92" y="311.5" font-size="17.66" textLength="67.87" lengthAdjust="spacingAndGlyphs">50.25°N</text>
<text x="36.44" y="455.4" font-size="17.66" textLength="41.34" lengthAdjust="spacingAndGlyphs">50°N</text>
<text x="9.77" y="598.6" font-size="17.66" textLength="68.03" lengthAdjust="spacingAndGlyphs">49.75°N</text>
<text x="20.37" y="740.9" font-size="17.66" textLength="57.42" lengthAdjust="spacingAndGlyphs">49.5°N</text>
<text x="9.77" y="882.6" font-size="17.66" textLength="68.03" lengthAdjust="spacingAndGlyphs">49.25°N</text>
<text x="36.28" y="1023.5" font-size="17.66" textLength="41.50" lengthAdjust="spacingAndGlyphs">49°N</text>
<text x="145.35" y="1067" font-size="17.66" textLength="28.58" lengthAdjust="spacingAndGlyphs">5°E</text>
<text x="322.38" y="1067" font-size="17.66" textLength="44.52" lengthAdjust="spacingAndGlyphs">5.5°E</text>
<text x="515.03" y="1067" font-size="17.66" textLength="28.91" lengthAdjust="spacingAndGlyphs">6°E</text>
<text x="692.05" y="1067" font-size="17.66" textLength="44.85" lengthAdjust="spacingAndGlyphs">6.5°E</text>
<text x="885.23" y="1067" font-size="17.66" textLength="28.70" lengthAdjust="spacingAndGlyphs">7°E</text>
<g shape-rendering="crispEdges">
<rect x="1068" y="964" width="46" height="32" fill="#6678aa"/>
<rect x="1068" y="932" width="46" height="32" fill="#526aa4"/>
<rect x="1068" y="900" width="46" height="32" fill="#4460a2"/>
<rect x="1068" y="867" width="46" height="33" fill="#4a7cb4"/>
<rect x="1068" y="835" width="46" height="32" fill="#5aa0c8"/>
<rect x="1068" y="803" width="46" height="32" fill="#66c2dc"/>
<rect x="1068" y="771" width="46" height="32" fill="#64d6c2"/>
<rect x="1068" y="739" width="46" height="32" fill="#40d66e"/>
<rect x="1068" y="706" width="46" height="33" fill="#14c81e"/>
<rect x="1068" y="674" width="46" height="32" fill="#12b41c"/>
<rect x="1068" y="642" width="46" height="32" fill="#10a018"/>
<rect x="1068" y="610" width="46" height="32" fill="#0e8c16"/>
<rect x="1068" y="578" width="46" height="32" fill="#0c7812"/>
<rect x="1068" y="546" width="46" height="32" fill="#0a6010"/>
<rect x="1068" y="513" width="46" height="33" fill="#457a0c"/>
<rect x="1068" y="481" width="46" height="32" fill="#aeb20a"/>
<rect x="1068" y="449" width="46" height="32" fill="#ffd800"/>
<rect x="1068" y="417" width="46" height="32" fill="#ffb800"/>
<rect x="1068" y="385" width="46" height="32" fill="#ff9a00"/>
<rect x="1068" y="352" width="46" height="33" fill="#ff8000"/>
<rect x="1068" y="320" width="46" height="32" fill="#e30000"/>
<rect x="1068" y="288" width="46" height="32" fill="#c00000"/>
<rect x="1068" y="256" width="46" height="32" fill="#9c0000"/>
<rect x="1068" y="224" width="46" height="32" fill="#7a0000"/>
<rect x="1068" y="191" width="46" height="33" fill="#ffe0ff"/>
<rect x="1068" y="159" width="46" height="32" fill="#ffb3ff"/>
<rect x="1068" y="127" width="46" height="32" fill="#fc68f8"/>
<rect x="1068" y="95" width="46" height="32" fill="#ea33ea"/>
</g>
<rect x="1068.5" y="95.5" width="45" height="901" fill="none" stroke="#000" stroke-width="1.1"/>
<line x1="1113.5" y1="996.5" x2="1118.8" y2="996.5" stroke="#000" stroke-width="1.1"/>
<text x="1124.06" y="1006.7" font-size="29.44" textLength="16.29" lengthAdjust="spacingAndGlyphs">0</text>
<line x1="1113.5" y1="867.5" x2="1118.8" y2="867.5" stroke="#000" stroke-width="1.1"/>
<text x="1122.87" y="877.9" font-size="29.44" textLength="33.97" lengthAdjust="spacingAndGlyphs">10</text>
<line x1="1113.5" y1="739.5" x2="1118.8" y2="739.5" stroke="#000" stroke-width="1.1"/>
<text x="1123.65" y="749.2" font-size="29.44" textLength="34.22" lengthAdjust="spacingAndGlyphs">20</text>
<line x1="1113.5" y1="610.5" x2="1118.8" y2="610.5" stroke="#000" stroke-width="1.1"/>
<text x="1124.05" y="620.4" font-size="29.44" textLength="33.73" lengthAdjust="spacingAndGlyphs">30</text>
<line x1="1113.5" y1="481.5" x2="1118.8" y2="481.5" stroke="#000" stroke-width="1.1"/>
<text x="1124.50" y="491.7" font-size="29.44" textLength="34.05" lengthAdjust="spacingAndGlyphs">40</text>
<line x1="1113.5" y1="353.5" x2="1118.8" y2="353.5" stroke="#000" stroke-width="1.1"/>
<text x="1123.98" y="362.9" font-size="29.44" textLength="33.76" lengthAdjust="spacingAndGlyphs">50</text>
<line x1="1113.5" y1="224.5" x2="1118.8" y2="224.5" stroke="#000" stroke-width="1.1"/>
<text x="1123.63" y="234.2" font-size="29.44" textLength="34.34" lengthAdjust="spacingAndGlyphs">60</text>
<line x1="1113.5" y1="95.5" x2="1118.8" y2="95.5" stroke="#000" stroke-width="1.1"/>
<text x="1123.63" y="105.4" font-size="29.44" textLength="33.99" lengthAdjust="spacingAndGlyphs">70</text>
<g transform="translate(1187.3,548.5) rotate(-90)"><text x="-27.59" y="0" font-size="29.44" textLength="55.14" lengthAdjust="spacingAndGlyphs">dBZ</text></g>
</svg></body></html>
